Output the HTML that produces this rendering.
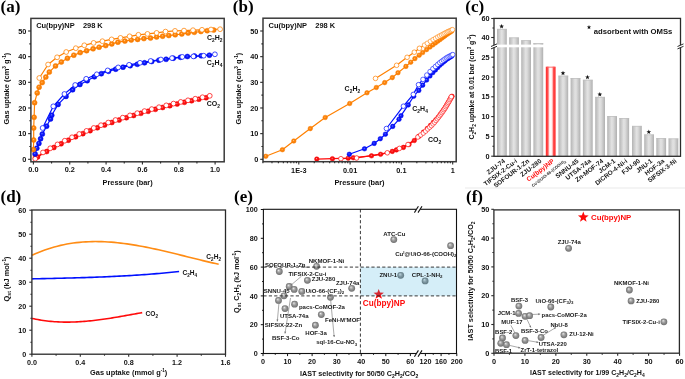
<!DOCTYPE html>
<html><head><meta charset="utf-8"><style>
html,body{margin:0;padding:0;background:#fff;width:685px;height:379px;overflow:hidden}
svg{display:block;will-change:transform}
</style></head><body>
<svg width="685" height="379" viewBox="0 0 685 379">
<rect width="685" height="379" fill="#fff"/>

<defs>
 <radialGradient id="gor" cx="0.5" cy="0.5" r="0.5" fx="0.42" fy="0.38"><stop offset="0" stop-color="#FFC080"/><stop offset="0.35" stop-color="#FF8A12"/><stop offset="1" stop-color="#F07500"/></radialGradient>
 <radialGradient id="gbl" cx="0.5" cy="0.5" r="0.5" fx="0.42" fy="0.38"><stop offset="0" stop-color="#7080FF"/><stop offset="0.35" stop-color="#1525FF"/><stop offset="1" stop-color="#0000E0"/></radialGradient>
 <radialGradient id="grd" cx="0.5" cy="0.5" r="0.5" fx="0.42" fy="0.38"><stop offset="0" stop-color="#FF9A9A"/><stop offset="0.35" stop-color="#FF1A1A"/><stop offset="1" stop-color="#E60000"/></radialGradient>
 <radialGradient id="gsp" cx="0.5" cy="0.5" r="0.5" fx="0.38" fy="0.32"><stop offset="0" stop-color="#F4F4F4"/><stop offset="0.18" stop-color="#C8C8C8"/><stop offset="0.55" stop-color="#959595"/><stop offset="0.85" stop-color="#7C7C7C"/><stop offset="1" stop-color="#6E6E6E"/></radialGradient>
 <linearGradient id="gbar" x1="0" x2="1" y1="0" y2="0"><stop offset="0" stop-color="#B4B4B4"/><stop offset="0.45" stop-color="#E2E2E2"/><stop offset="0.6" stop-color="#DCDCDC"/><stop offset="1" stop-color="#B0B0B0"/></linearGradient>
 <linearGradient id="gbarr" x1="0" x2="1" y1="0" y2="0"><stop offset="0" stop-color="#FF2A2A"/><stop offset="0.22" stop-color="#FF5050"/><stop offset="0.36" stop-color="#FFE8E8"/><stop offset="0.5" stop-color="#FFFFFF"/><stop offset="0.64" stop-color="#FFE8E8"/><stop offset="0.78" stop-color="#FF5050"/><stop offset="1" stop-color="#FF2A2A"/></linearGradient>
</defs>

<text x="0.5" y="11.6" font-family="Liberation Serif" font-weight="bold" font-size="17" text-anchor="start" fill="#000" >(a)</text>
<polyline points="33.4,159.3 37.5,156.96 46.6,151.55 53.85,147.53 61.1,143.75 68.35,140.19 75.6,136.82 82.85,133.65 90.1,130.64 97.35,127.78 104.6,125.07 111.85,122.49 119.1,120.04 126.35,117.7 133.6,115.47 140.85,113.34 148.1,111.3 155.35,109.35 162.6,107.48 169.85,105.69 177.1,103.97 184.35,102.32 191.6,100.73 198.85,99.2 206.1,97.73" fill="none" stroke="#FF0A0A" stroke-width="1.2" stroke-linejoin="round"/>
<polyline points="35.22,158.79 43,152.44 50.25,148.29 57.5,144.4 64.75,140.73 72,137.27 79.25,134 86.5,130.91 93.75,127.98 101,125.2 108.25,122.56 115.5,120.04 122.75,117.65 130,115.37 137.25,113.19 144.5,111.1 151.75,109.11 159,107.2 166.25,105.37 173.5,103.61 180.75,101.93 188,100.31 195.25,98.75 202.5,97.25 209.75,95.81" fill="none" stroke="#FF0A0A" stroke-width="1.2" stroke-linejoin="round"/>
<polyline points="33.4,159.3 35.1,153.9 36.8,148.2 38.9,143.4 40.6,138.8 42.3,134.1 46.6,126.2 50.5,119 51.7,115.3 58.1,104.4 66,96.4 72.6,89.8 79.9,84.5 87.2,80.7 94.4,76.8 101.3,73.7 108.5,71.3 115.7,69.2 123,67.2 130.2,65.7 137.3,64.3 144.5,62.8 151.7,61.5 158.9,60.2 166.1,59.3 173.3,58.2 180.5,57.3 187.4,56.5 194.5,56.1 201.2,55.8 209.4,55.2" fill="none" stroke="#0010FF" stroke-width="1.2" stroke-linejoin="round"/>
<polyline points="42.6,128 53.3,106.3 64.4,94 75.2,85 86.2,78.8 96.8,74.3 107.7,70.4 118.2,67.4 129.1,64.8 140,62.8 150.6,61 160.9,59.5 172,58.1 182.3,56.9 193.4,56.4 203.7,55.7 214.9,54.3" fill="none" stroke="#0010FF" stroke-width="1.2" stroke-linejoin="round"/>
<polyline points="33.4,159.3 33.4,149.6 33.7,140 33.7,128 34.1,117.3 34.6,102.7 37.2,92.9 39.1,87.2 42.2,82.6 45.8,77.1 49.3,72.1 55.5,65.9 61.3,62 67.4,58.3 73.8,55.2 80.2,52.6 86.6,50.7 93.1,48.8 99.1,47.2 105.7,45.6 111.8,43.9 117.9,42.2 124.9,41.1 131.2,40 137.6,39.4 143.9,38.6 150.5,38.1 156.6,37 162.6,36.2 168.8,35.5 175.2,34.8 181.8,34 188.1,33.1 194.3,32.3 200.9,31.5 207.2,30.7 213.7,30.1" fill="none" stroke="#FF8000" stroke-width="1.2" stroke-linejoin="round"/>
<polyline points="39.3,78 48.1,64.5 57.1,57.3 66.2,52 75.8,48.2 84.3,45.3 93.6,42.9 102.4,41.2 111.6,39.4 120.5,37.9 129.6,36.3 138.4,34.8 147.5,33.9 156.6,32.9 165.5,31.6 175,30.9 184,30.6 193,30.2 202,29.8 211,29.5 220.1,29.2" fill="none" stroke="#FF8000" stroke-width="1.2" stroke-linejoin="round"/>
<circle cx="37.5" cy="156.96" r="2.5" fill="url(#grd)" stroke="#FF0A0A" stroke-width="0.5"/>
<circle cx="46.6" cy="151.55" r="2.5" fill="url(#grd)" stroke="#FF0A0A" stroke-width="0.5"/>
<circle cx="53.85" cy="147.53" r="2.5" fill="url(#grd)" stroke="#FF0A0A" stroke-width="0.5"/>
<circle cx="61.1" cy="143.75" r="2.5" fill="url(#grd)" stroke="#FF0A0A" stroke-width="0.5"/>
<circle cx="68.35" cy="140.19" r="2.5" fill="url(#grd)" stroke="#FF0A0A" stroke-width="0.5"/>
<circle cx="75.6" cy="136.82" r="2.5" fill="url(#grd)" stroke="#FF0A0A" stroke-width="0.5"/>
<circle cx="82.85" cy="133.65" r="2.5" fill="url(#grd)" stroke="#FF0A0A" stroke-width="0.5"/>
<circle cx="90.1" cy="130.64" r="2.5" fill="url(#grd)" stroke="#FF0A0A" stroke-width="0.5"/>
<circle cx="97.35" cy="127.78" r="2.5" fill="url(#grd)" stroke="#FF0A0A" stroke-width="0.5"/>
<circle cx="104.6" cy="125.07" r="2.5" fill="url(#grd)" stroke="#FF0A0A" stroke-width="0.5"/>
<circle cx="111.85" cy="122.49" r="2.5" fill="url(#grd)" stroke="#FF0A0A" stroke-width="0.5"/>
<circle cx="119.1" cy="120.04" r="2.5" fill="url(#grd)" stroke="#FF0A0A" stroke-width="0.5"/>
<circle cx="126.35" cy="117.7" r="2.5" fill="url(#grd)" stroke="#FF0A0A" stroke-width="0.5"/>
<circle cx="133.6" cy="115.47" r="2.5" fill="url(#grd)" stroke="#FF0A0A" stroke-width="0.5"/>
<circle cx="140.85" cy="113.34" r="2.5" fill="url(#grd)" stroke="#FF0A0A" stroke-width="0.5"/>
<circle cx="148.1" cy="111.3" r="2.5" fill="url(#grd)" stroke="#FF0A0A" stroke-width="0.5"/>
<circle cx="155.35" cy="109.35" r="2.5" fill="url(#grd)" stroke="#FF0A0A" stroke-width="0.5"/>
<circle cx="162.6" cy="107.48" r="2.5" fill="url(#grd)" stroke="#FF0A0A" stroke-width="0.5"/>
<circle cx="169.85" cy="105.69" r="2.5" fill="url(#grd)" stroke="#FF0A0A" stroke-width="0.5"/>
<circle cx="177.1" cy="103.97" r="2.5" fill="url(#grd)" stroke="#FF0A0A" stroke-width="0.5"/>
<circle cx="184.35" cy="102.32" r="2.5" fill="url(#grd)" stroke="#FF0A0A" stroke-width="0.5"/>
<circle cx="191.6" cy="100.73" r="2.5" fill="url(#grd)" stroke="#FF0A0A" stroke-width="0.5"/>
<circle cx="198.85" cy="99.2" r="2.5" fill="url(#grd)" stroke="#FF0A0A" stroke-width="0.5"/>
<circle cx="206.1" cy="97.73" r="2.5" fill="url(#grd)" stroke="#FF0A0A" stroke-width="0.5"/>
<circle cx="35.22" cy="158.79" r="2.4" fill="#fff" stroke="#FF0A0A" stroke-width="0.75"/>
<circle cx="43" cy="152.44" r="2.4" fill="#fff" stroke="#FF0A0A" stroke-width="0.75"/>
<circle cx="50.25" cy="148.29" r="2.4" fill="#fff" stroke="#FF0A0A" stroke-width="0.75"/>
<circle cx="57.5" cy="144.4" r="2.4" fill="#fff" stroke="#FF0A0A" stroke-width="0.75"/>
<circle cx="64.75" cy="140.73" r="2.4" fill="#fff" stroke="#FF0A0A" stroke-width="0.75"/>
<circle cx="72" cy="137.27" r="2.4" fill="#fff" stroke="#FF0A0A" stroke-width="0.75"/>
<circle cx="79.25" cy="134" r="2.4" fill="#fff" stroke="#FF0A0A" stroke-width="0.75"/>
<circle cx="86.5" cy="130.91" r="2.4" fill="#fff" stroke="#FF0A0A" stroke-width="0.75"/>
<circle cx="93.75" cy="127.98" r="2.4" fill="#fff" stroke="#FF0A0A" stroke-width="0.75"/>
<circle cx="101" cy="125.2" r="2.4" fill="#fff" stroke="#FF0A0A" stroke-width="0.75"/>
<circle cx="108.25" cy="122.56" r="2.4" fill="#fff" stroke="#FF0A0A" stroke-width="0.75"/>
<circle cx="115.5" cy="120.04" r="2.4" fill="#fff" stroke="#FF0A0A" stroke-width="0.75"/>
<circle cx="122.75" cy="117.65" r="2.4" fill="#fff" stroke="#FF0A0A" stroke-width="0.75"/>
<circle cx="130" cy="115.37" r="2.4" fill="#fff" stroke="#FF0A0A" stroke-width="0.75"/>
<circle cx="137.25" cy="113.19" r="2.4" fill="#fff" stroke="#FF0A0A" stroke-width="0.75"/>
<circle cx="144.5" cy="111.1" r="2.4" fill="#fff" stroke="#FF0A0A" stroke-width="0.75"/>
<circle cx="151.75" cy="109.11" r="2.4" fill="#fff" stroke="#FF0A0A" stroke-width="0.75"/>
<circle cx="159" cy="107.2" r="2.4" fill="#fff" stroke="#FF0A0A" stroke-width="0.75"/>
<circle cx="166.25" cy="105.37" r="2.4" fill="#fff" stroke="#FF0A0A" stroke-width="0.75"/>
<circle cx="173.5" cy="103.61" r="2.4" fill="#fff" stroke="#FF0A0A" stroke-width="0.75"/>
<circle cx="180.75" cy="101.93" r="2.4" fill="#fff" stroke="#FF0A0A" stroke-width="0.75"/>
<circle cx="188" cy="100.31" r="2.4" fill="#fff" stroke="#FF0A0A" stroke-width="0.75"/>
<circle cx="195.25" cy="98.75" r="2.4" fill="#fff" stroke="#FF0A0A" stroke-width="0.75"/>
<circle cx="202.5" cy="97.25" r="2.4" fill="#fff" stroke="#FF0A0A" stroke-width="0.75"/>
<circle cx="209.75" cy="95.81" r="2.4" fill="#fff" stroke="#FF0A0A" stroke-width="0.75"/>
<circle cx="35.1" cy="153.9" r="2.5" fill="url(#gbl)" stroke="#0010FF" stroke-width="0.5"/>
<circle cx="36.8" cy="148.2" r="2.5" fill="url(#gbl)" stroke="#0010FF" stroke-width="0.5"/>
<circle cx="38.9" cy="143.4" r="2.5" fill="url(#gbl)" stroke="#0010FF" stroke-width="0.5"/>
<circle cx="40.6" cy="138.8" r="2.5" fill="url(#gbl)" stroke="#0010FF" stroke-width="0.5"/>
<circle cx="42.3" cy="134.1" r="2.5" fill="url(#gbl)" stroke="#0010FF" stroke-width="0.5"/>
<circle cx="46.6" cy="126.2" r="2.5" fill="url(#gbl)" stroke="#0010FF" stroke-width="0.5"/>
<circle cx="50.5" cy="119" r="2.5" fill="url(#gbl)" stroke="#0010FF" stroke-width="0.5"/>
<circle cx="51.7" cy="115.3" r="2.5" fill="url(#gbl)" stroke="#0010FF" stroke-width="0.5"/>
<circle cx="58.1" cy="104.4" r="2.5" fill="url(#gbl)" stroke="#0010FF" stroke-width="0.5"/>
<circle cx="66" cy="96.4" r="2.5" fill="url(#gbl)" stroke="#0010FF" stroke-width="0.5"/>
<circle cx="72.6" cy="89.8" r="2.5" fill="url(#gbl)" stroke="#0010FF" stroke-width="0.5"/>
<circle cx="79.9" cy="84.5" r="2.5" fill="url(#gbl)" stroke="#0010FF" stroke-width="0.5"/>
<circle cx="87.2" cy="80.7" r="2.5" fill="url(#gbl)" stroke="#0010FF" stroke-width="0.5"/>
<circle cx="94.4" cy="76.8" r="2.5" fill="url(#gbl)" stroke="#0010FF" stroke-width="0.5"/>
<circle cx="101.3" cy="73.7" r="2.5" fill="url(#gbl)" stroke="#0010FF" stroke-width="0.5"/>
<circle cx="108.5" cy="71.3" r="2.5" fill="url(#gbl)" stroke="#0010FF" stroke-width="0.5"/>
<circle cx="115.7" cy="69.2" r="2.5" fill="url(#gbl)" stroke="#0010FF" stroke-width="0.5"/>
<circle cx="123" cy="67.2" r="2.5" fill="url(#gbl)" stroke="#0010FF" stroke-width="0.5"/>
<circle cx="130.2" cy="65.7" r="2.5" fill="url(#gbl)" stroke="#0010FF" stroke-width="0.5"/>
<circle cx="137.3" cy="64.3" r="2.5" fill="url(#gbl)" stroke="#0010FF" stroke-width="0.5"/>
<circle cx="144.5" cy="62.8" r="2.5" fill="url(#gbl)" stroke="#0010FF" stroke-width="0.5"/>
<circle cx="151.7" cy="61.5" r="2.5" fill="url(#gbl)" stroke="#0010FF" stroke-width="0.5"/>
<circle cx="158.9" cy="60.2" r="2.5" fill="url(#gbl)" stroke="#0010FF" stroke-width="0.5"/>
<circle cx="166.1" cy="59.3" r="2.5" fill="url(#gbl)" stroke="#0010FF" stroke-width="0.5"/>
<circle cx="173.3" cy="58.2" r="2.5" fill="url(#gbl)" stroke="#0010FF" stroke-width="0.5"/>
<circle cx="180.5" cy="57.3" r="2.5" fill="url(#gbl)" stroke="#0010FF" stroke-width="0.5"/>
<circle cx="187.4" cy="56.5" r="2.5" fill="url(#gbl)" stroke="#0010FF" stroke-width="0.5"/>
<circle cx="194.5" cy="56.1" r="2.5" fill="url(#gbl)" stroke="#0010FF" stroke-width="0.5"/>
<circle cx="201.2" cy="55.8" r="2.5" fill="url(#gbl)" stroke="#0010FF" stroke-width="0.5"/>
<circle cx="209.4" cy="55.2" r="2.5" fill="url(#gbl)" stroke="#0010FF" stroke-width="0.5"/>
<circle cx="42.6" cy="128" r="2.4" fill="#fff" stroke="#0010FF" stroke-width="0.75"/>
<circle cx="53.3" cy="106.3" r="2.4" fill="#fff" stroke="#0010FF" stroke-width="0.75"/>
<circle cx="64.4" cy="94" r="2.4" fill="#fff" stroke="#0010FF" stroke-width="0.75"/>
<circle cx="75.2" cy="85" r="2.4" fill="#fff" stroke="#0010FF" stroke-width="0.75"/>
<circle cx="86.2" cy="78.8" r="2.4" fill="#fff" stroke="#0010FF" stroke-width="0.75"/>
<circle cx="96.8" cy="74.3" r="2.4" fill="#fff" stroke="#0010FF" stroke-width="0.75"/>
<circle cx="107.7" cy="70.4" r="2.4" fill="#fff" stroke="#0010FF" stroke-width="0.75"/>
<circle cx="118.2" cy="67.4" r="2.4" fill="#fff" stroke="#0010FF" stroke-width="0.75"/>
<circle cx="129.1" cy="64.8" r="2.4" fill="#fff" stroke="#0010FF" stroke-width="0.75"/>
<circle cx="140" cy="62.8" r="2.4" fill="#fff" stroke="#0010FF" stroke-width="0.75"/>
<circle cx="150.6" cy="61" r="2.4" fill="#fff" stroke="#0010FF" stroke-width="0.75"/>
<circle cx="160.9" cy="59.5" r="2.4" fill="#fff" stroke="#0010FF" stroke-width="0.75"/>
<circle cx="172" cy="58.1" r="2.4" fill="#fff" stroke="#0010FF" stroke-width="0.75"/>
<circle cx="182.3" cy="56.9" r="2.4" fill="#fff" stroke="#0010FF" stroke-width="0.75"/>
<circle cx="193.4" cy="56.4" r="2.4" fill="#fff" stroke="#0010FF" stroke-width="0.75"/>
<circle cx="203.7" cy="55.7" r="2.4" fill="#fff" stroke="#0010FF" stroke-width="0.75"/>
<circle cx="214.9" cy="54.3" r="2.4" fill="#fff" stroke="#0010FF" stroke-width="0.75"/>
<circle cx="33.4" cy="149.6" r="2.5" fill="url(#gor)" stroke="#FF8000" stroke-width="0.5"/>
<circle cx="33.7" cy="140" r="2.5" fill="url(#gor)" stroke="#FF8000" stroke-width="0.5"/>
<circle cx="33.7" cy="128" r="2.5" fill="url(#gor)" stroke="#FF8000" stroke-width="0.5"/>
<circle cx="34.1" cy="117.3" r="2.5" fill="url(#gor)" stroke="#FF8000" stroke-width="0.5"/>
<circle cx="34.6" cy="102.7" r="2.5" fill="url(#gor)" stroke="#FF8000" stroke-width="0.5"/>
<circle cx="37.2" cy="92.9" r="2.5" fill="url(#gor)" stroke="#FF8000" stroke-width="0.5"/>
<circle cx="39.1" cy="87.2" r="2.5" fill="url(#gor)" stroke="#FF8000" stroke-width="0.5"/>
<circle cx="42.2" cy="82.6" r="2.5" fill="url(#gor)" stroke="#FF8000" stroke-width="0.5"/>
<circle cx="45.8" cy="77.1" r="2.5" fill="url(#gor)" stroke="#FF8000" stroke-width="0.5"/>
<circle cx="49.3" cy="72.1" r="2.5" fill="url(#gor)" stroke="#FF8000" stroke-width="0.5"/>
<circle cx="55.5" cy="65.9" r="2.5" fill="url(#gor)" stroke="#FF8000" stroke-width="0.5"/>
<circle cx="61.3" cy="62" r="2.5" fill="url(#gor)" stroke="#FF8000" stroke-width="0.5"/>
<circle cx="67.4" cy="58.3" r="2.5" fill="url(#gor)" stroke="#FF8000" stroke-width="0.5"/>
<circle cx="73.8" cy="55.2" r="2.5" fill="url(#gor)" stroke="#FF8000" stroke-width="0.5"/>
<circle cx="80.2" cy="52.6" r="2.5" fill="url(#gor)" stroke="#FF8000" stroke-width="0.5"/>
<circle cx="86.6" cy="50.7" r="2.5" fill="url(#gor)" stroke="#FF8000" stroke-width="0.5"/>
<circle cx="93.1" cy="48.8" r="2.5" fill="url(#gor)" stroke="#FF8000" stroke-width="0.5"/>
<circle cx="99.1" cy="47.2" r="2.5" fill="url(#gor)" stroke="#FF8000" stroke-width="0.5"/>
<circle cx="105.7" cy="45.6" r="2.5" fill="url(#gor)" stroke="#FF8000" stroke-width="0.5"/>
<circle cx="111.8" cy="43.9" r="2.5" fill="url(#gor)" stroke="#FF8000" stroke-width="0.5"/>
<circle cx="117.9" cy="42.2" r="2.5" fill="url(#gor)" stroke="#FF8000" stroke-width="0.5"/>
<circle cx="124.9" cy="41.1" r="2.5" fill="url(#gor)" stroke="#FF8000" stroke-width="0.5"/>
<circle cx="131.2" cy="40" r="2.5" fill="url(#gor)" stroke="#FF8000" stroke-width="0.5"/>
<circle cx="137.6" cy="39.4" r="2.5" fill="url(#gor)" stroke="#FF8000" stroke-width="0.5"/>
<circle cx="143.9" cy="38.6" r="2.5" fill="url(#gor)" stroke="#FF8000" stroke-width="0.5"/>
<circle cx="150.5" cy="38.1" r="2.5" fill="url(#gor)" stroke="#FF8000" stroke-width="0.5"/>
<circle cx="156.6" cy="37" r="2.5" fill="url(#gor)" stroke="#FF8000" stroke-width="0.5"/>
<circle cx="162.6" cy="36.2" r="2.5" fill="url(#gor)" stroke="#FF8000" stroke-width="0.5"/>
<circle cx="168.8" cy="35.5" r="2.5" fill="url(#gor)" stroke="#FF8000" stroke-width="0.5"/>
<circle cx="175.2" cy="34.8" r="2.5" fill="url(#gor)" stroke="#FF8000" stroke-width="0.5"/>
<circle cx="181.8" cy="34" r="2.5" fill="url(#gor)" stroke="#FF8000" stroke-width="0.5"/>
<circle cx="188.1" cy="33.1" r="2.5" fill="url(#gor)" stroke="#FF8000" stroke-width="0.5"/>
<circle cx="194.3" cy="32.3" r="2.5" fill="url(#gor)" stroke="#FF8000" stroke-width="0.5"/>
<circle cx="200.9" cy="31.5" r="2.5" fill="url(#gor)" stroke="#FF8000" stroke-width="0.5"/>
<circle cx="207.2" cy="30.7" r="2.5" fill="url(#gor)" stroke="#FF8000" stroke-width="0.5"/>
<circle cx="213.7" cy="30.1" r="2.5" fill="url(#gor)" stroke="#FF8000" stroke-width="0.5"/>
<circle cx="39.3" cy="78" r="2.4" fill="#fff" stroke="#FF8000" stroke-width="0.75"/>
<circle cx="48.1" cy="64.5" r="2.4" fill="#fff" stroke="#FF8000" stroke-width="0.75"/>
<circle cx="57.1" cy="57.3" r="2.4" fill="#fff" stroke="#FF8000" stroke-width="0.75"/>
<circle cx="66.2" cy="52" r="2.4" fill="#fff" stroke="#FF8000" stroke-width="0.75"/>
<circle cx="75.8" cy="48.2" r="2.4" fill="#fff" stroke="#FF8000" stroke-width="0.75"/>
<circle cx="84.3" cy="45.3" r="2.4" fill="#fff" stroke="#FF8000" stroke-width="0.75"/>
<circle cx="93.6" cy="42.9" r="2.4" fill="#fff" stroke="#FF8000" stroke-width="0.75"/>
<circle cx="102.4" cy="41.2" r="2.4" fill="#fff" stroke="#FF8000" stroke-width="0.75"/>
<circle cx="111.6" cy="39.4" r="2.4" fill="#fff" stroke="#FF8000" stroke-width="0.75"/>
<circle cx="120.5" cy="37.9" r="2.4" fill="#fff" stroke="#FF8000" stroke-width="0.75"/>
<circle cx="129.6" cy="36.3" r="2.4" fill="#fff" stroke="#FF8000" stroke-width="0.75"/>
<circle cx="138.4" cy="34.8" r="2.4" fill="#fff" stroke="#FF8000" stroke-width="0.75"/>
<circle cx="147.5" cy="33.9" r="2.4" fill="#fff" stroke="#FF8000" stroke-width="0.75"/>
<circle cx="156.6" cy="32.9" r="2.4" fill="#fff" stroke="#FF8000" stroke-width="0.75"/>
<circle cx="165.5" cy="31.6" r="2.4" fill="#fff" stroke="#FF8000" stroke-width="0.75"/>
<circle cx="175" cy="30.9" r="2.4" fill="#fff" stroke="#FF8000" stroke-width="0.75"/>
<circle cx="184" cy="30.6" r="2.4" fill="#fff" stroke="#FF8000" stroke-width="0.75"/>
<circle cx="193" cy="30.2" r="2.4" fill="#fff" stroke="#FF8000" stroke-width="0.75"/>
<circle cx="202" cy="29.8" r="2.4" fill="#fff" stroke="#FF8000" stroke-width="0.75"/>
<circle cx="211" cy="29.5" r="2.4" fill="#fff" stroke="#FF8000" stroke-width="0.75"/>
<circle cx="220.1" cy="29.2" r="2.4" fill="#fff" stroke="#FF8000" stroke-width="0.75"/>
<rect x="30.9" y="18.4" width="193.3" height="143.4" fill="none" stroke="#3a3a3a" stroke-width="1.5"/>
<line x1="33.4" y1="161.8" x2="33.4" y2="164.6" stroke="#2a2a2a" stroke-width="1.1" />
<line x1="69.74" y1="161.8" x2="69.74" y2="164.6" stroke="#2a2a2a" stroke-width="1.1" />
<line x1="106.08" y1="161.8" x2="106.08" y2="164.6" stroke="#2a2a2a" stroke-width="1.1" />
<line x1="142.42" y1="161.8" x2="142.42" y2="164.6" stroke="#2a2a2a" stroke-width="1.1" />
<line x1="178.76" y1="161.8" x2="178.76" y2="164.6" stroke="#2a2a2a" stroke-width="1.1" />
<line x1="215.1" y1="161.8" x2="215.1" y2="164.6" stroke="#2a2a2a" stroke-width="1.1" />
<line x1="51.57" y1="161.8" x2="51.57" y2="163.4" stroke="#2a2a2a" stroke-width="1.1" />
<line x1="87.91" y1="161.8" x2="87.91" y2="163.4" stroke="#2a2a2a" stroke-width="1.1" />
<line x1="124.25" y1="161.8" x2="124.25" y2="163.4" stroke="#2a2a2a" stroke-width="1.1" />
<line x1="160.59" y1="161.8" x2="160.59" y2="163.4" stroke="#2a2a2a" stroke-width="1.1" />
<line x1="196.93" y1="161.8" x2="196.93" y2="163.4" stroke="#2a2a2a" stroke-width="1.1" />
<text x="33.4" y="172.4" font-family="Liberation Sans" font-weight="bold" font-size="7.3" text-anchor="middle" fill="#111" >0.0</text>
<text x="69.74" y="172.4" font-family="Liberation Sans" font-weight="bold" font-size="7.3" text-anchor="middle" fill="#111" >0.2</text>
<text x="106.08" y="172.4" font-family="Liberation Sans" font-weight="bold" font-size="7.3" text-anchor="middle" fill="#111" >0.4</text>
<text x="142.42" y="172.4" font-family="Liberation Sans" font-weight="bold" font-size="7.3" text-anchor="middle" fill="#111" >0.6</text>
<text x="178.76" y="172.4" font-family="Liberation Sans" font-weight="bold" font-size="7.3" text-anchor="middle" fill="#111" >0.8</text>
<text x="215.1" y="172.4" font-family="Liberation Sans" font-weight="bold" font-size="7.3" text-anchor="middle" fill="#111" >1.0</text>
<line x1="30.9" y1="159.3" x2="28.1" y2="159.3" stroke="#2a2a2a" stroke-width="1.1" />
<line x1="30.9" y1="133.64" x2="28.1" y2="133.64" stroke="#2a2a2a" stroke-width="1.1" />
<line x1="30.9" y1="107.98" x2="28.1" y2="107.98" stroke="#2a2a2a" stroke-width="1.1" />
<line x1="30.9" y1="82.32" x2="28.1" y2="82.32" stroke="#2a2a2a" stroke-width="1.1" />
<line x1="30.9" y1="56.66" x2="28.1" y2="56.66" stroke="#2a2a2a" stroke-width="1.1" />
<line x1="30.9" y1="31" x2="28.1" y2="31" stroke="#2a2a2a" stroke-width="1.1" />
<line x1="30.9" y1="146.47" x2="29.3" y2="146.47" stroke="#2a2a2a" stroke-width="1.1" />
<line x1="30.9" y1="120.81" x2="29.3" y2="120.81" stroke="#2a2a2a" stroke-width="1.1" />
<line x1="30.9" y1="95.15" x2="29.3" y2="95.15" stroke="#2a2a2a" stroke-width="1.1" />
<line x1="30.9" y1="69.49" x2="29.3" y2="69.49" stroke="#2a2a2a" stroke-width="1.1" />
<line x1="30.9" y1="43.83" x2="29.3" y2="43.83" stroke="#2a2a2a" stroke-width="1.1" />
<text x="26.4" y="161.9" font-family="Liberation Sans" font-weight="bold" font-size="7.3" text-anchor="end" fill="#111" >0</text>
<text x="26.4" y="136.24" font-family="Liberation Sans" font-weight="bold" font-size="7.3" text-anchor="end" fill="#111" >10</text>
<text x="26.4" y="110.58" font-family="Liberation Sans" font-weight="bold" font-size="7.3" text-anchor="end" fill="#111" >20</text>
<text x="26.4" y="84.92" font-family="Liberation Sans" font-weight="bold" font-size="7.3" text-anchor="end" fill="#111" >30</text>
<text x="26.4" y="59.26" font-family="Liberation Sans" font-weight="bold" font-size="7.3" text-anchor="end" fill="#111" >40</text>
<text x="26.4" y="33.6" font-family="Liberation Sans" font-weight="bold" font-size="7.3" text-anchor="end" fill="#111" >50</text>
<text x="127.6" y="184.8" font-family="Liberation Sans" font-weight="bold" font-size="7.4" text-anchor="middle" fill="#111" >Pressure (bar)</text>
<text transform="translate(9.1,88.6) rotate(-90)" font-family="Liberation Sans" font-weight="bold" font-size="7.5" text-anchor="middle" fill="#111">Gas uptake (cm<tspan font-size="4.65" baseline-shift="3">3</tspan> g<tspan font-size="4.65" baseline-shift="3">-1</tspan>)</text>
<text x="36.2" y="27.8" font-family="Liberation Sans" font-weight="bold" font-size="7.45" text-anchor="start" fill="#111" >Cu(bpy)NP&#160;&#160;&#160;&#160;298 K</text>
<text x="207" y="39.7" font-family="Liberation Sans" font-weight="bold" font-size="7" text-anchor="start" fill="#111" >C<tspan font-size="4.9" baseline-shift="-2.1">2</tspan>H<tspan font-size="4.9" baseline-shift="-2.1">2</tspan></text>
<text x="206.8" y="65.2" font-family="Liberation Sans" font-weight="bold" font-size="7" text-anchor="start" fill="#111" >C<tspan font-size="4.9" baseline-shift="-2.1">2</tspan>H<tspan font-size="4.9" baseline-shift="-2.1">4</tspan></text>
<text x="206.8" y="106.2" font-family="Liberation Sans" font-weight="bold" font-size="7" text-anchor="start" fill="#111" >CO<tspan font-size="4.9" baseline-shift="-2.1">2</tspan></text>
<text x="232.8" y="11.6" font-family="Liberation Serif" font-weight="bold" font-size="17" text-anchor="start" fill="#000" >(b)</text>
<polyline points="316.8,159.1 332.4,158.7 348.2,158.2 353.3,157.7 371.5,155.8 380.6,154.3 392.3,151.4 396.4,149.9 403.4,147.4 409,144.5 414.3,140.5 418.97,136.26 423.53,132.07 427.31,128.52 430.55,125.42 433.37,122.42 435.88,119.75 438.13,117.32 440.18,114.55 442.05,112 443.78,109.66 445.38,107.36 446.88,104.87 448.28,102.54 449.6,100.34 450.84,98.26 452.02,96.3" fill="none" stroke="#FF0A0A" stroke-width="1.2" stroke-linejoin="round"/>
<polyline points="340.9,158.7 356.6,158 387.3,152.8 399.4,148.4 408,144.5 417.85,137.03 420.76,134.92 423.34,133.06 425.64,131.13 427.73,128.98 429.65,127.24 431.41,125.68 433.04,123.92 434.56,122.26 435.98,120.49 437.32,118.81 438.58,117.16 439.77,115.6 440.9,114.08 441.98,112.63 443.01,111.18 443.99,109.71 444.94,108.3 445.84,106.74 446.71,105.24 447.54,103.81 448.35,102.44 449.13,101.05 449.88,99.55 450.6,98.09 451.31,96.69" fill="none" stroke="#FF0A0A" stroke-width="1.2" stroke-linejoin="round"/>
<polyline points="349.3,154.3 364.5,148.8 374.2,143.4 380.3,138.7 385.4,134.2 392.7,126.4 399,119.3 401,115.7 408.3,104.9 413.7,96.3 418.8,90.4 422.69,85.13 426.61,80.05 429.94,76 432.84,72.61 435.4,69.89 437.7,67.45 439.78,65.23 441.69,63.55 443.44,62.05 445.07,60.65 446.59,59.36 448.01,58.38 449.34,57.56 450.6,56.79 451.79,56.05" fill="none" stroke="#0010FF" stroke-width="1.2" stroke-linejoin="round"/>
<polyline points="386.4,128.5 403.4,106.2 413.3,94.4 418.5,84.7 422.98,79.39 426.8,75.07 430.07,71.57 432.91,68.7 435.44,66.49 437.7,64.51 439.76,62.71 441.64,61.33 443.38,60.09 444.99,58.94 446.49,57.86 447.9,57.05 449.22,56.39 450.47,55.77 451.65,55.17 452.78,54.61" fill="none" stroke="#0010FF" stroke-width="1.2" stroke-linejoin="round"/>
<polyline points="265.8,156.3 282.4,149.7 293.8,141 310.3,128.6 325.2,117.5 349.7,103.5 367,92.8 376.3,87.5 384.7,82.6 392.3,77.6 398,72.7 405.9,66.4 410.7,62.2 414.9,58.6 419.2,55.2 422.69,52.55 426.61,49.58 429.94,47.05 432.84,44.87 435.4,42.95 437.7,41.23 439.78,39.66 441.69,38.22 443.44,36.89 445.07,35.66 446.59,34.51 448.01,33.53 449.34,32.63 450.6,31.78 451.79,30.98" fill="none" stroke="#FF8000" stroke-width="1.2" stroke-linejoin="round"/>
<polyline points="375.5,78.4 396.6,65.3 407.1,57.3 414.3,52.2 419.4,48.3 424.5,45.1 427.33,43.29 430.43,41.3 433.15,39.65 435.58,38.29 437.76,37.06 439.76,35.94 441.58,34.96 443.27,34.07 444.84,33.24 446.31,32.47 447.68,31.8 448.98,31.22 450.2,30.68 451.36,30.17 452.47,29.68" fill="none" stroke="#FF8000" stroke-width="1.2" stroke-linejoin="round"/>
<circle cx="316.8" cy="159.1" r="2.3" fill="url(#grd)" stroke="#FF0A0A" stroke-width="0.5"/>
<circle cx="332.4" cy="158.7" r="2.3" fill="url(#grd)" stroke="#FF0A0A" stroke-width="0.5"/>
<circle cx="348.2" cy="158.2" r="2.3" fill="url(#grd)" stroke="#FF0A0A" stroke-width="0.5"/>
<circle cx="353.3" cy="157.7" r="2.3" fill="url(#grd)" stroke="#FF0A0A" stroke-width="0.5"/>
<circle cx="371.5" cy="155.8" r="2.3" fill="url(#grd)" stroke="#FF0A0A" stroke-width="0.5"/>
<circle cx="380.6" cy="154.3" r="2.3" fill="url(#grd)" stroke="#FF0A0A" stroke-width="0.5"/>
<circle cx="392.3" cy="151.4" r="2.3" fill="url(#grd)" stroke="#FF0A0A" stroke-width="0.5"/>
<circle cx="396.4" cy="149.9" r="2.3" fill="url(#grd)" stroke="#FF0A0A" stroke-width="0.5"/>
<circle cx="403.4" cy="147.4" r="2.3" fill="url(#grd)" stroke="#FF0A0A" stroke-width="0.5"/>
<circle cx="409" cy="144.5" r="2.3" fill="url(#grd)" stroke="#FF0A0A" stroke-width="0.5"/>
<circle cx="414.3" cy="140.5" r="2.3" fill="url(#grd)" stroke="#FF0A0A" stroke-width="0.5"/>
<circle cx="418.97" cy="136.26" r="2.3" fill="url(#grd)" stroke="#FF0A0A" stroke-width="0.5"/>
<circle cx="423.53" cy="132.07" r="2.3" fill="url(#grd)" stroke="#FF0A0A" stroke-width="0.5"/>
<circle cx="427.31" cy="128.52" r="2.3" fill="url(#grd)" stroke="#FF0A0A" stroke-width="0.5"/>
<circle cx="430.55" cy="125.42" r="2.3" fill="url(#grd)" stroke="#FF0A0A" stroke-width="0.5"/>
<circle cx="433.37" cy="122.42" r="2.3" fill="url(#grd)" stroke="#FF0A0A" stroke-width="0.5"/>
<circle cx="435.88" cy="119.75" r="2.3" fill="url(#grd)" stroke="#FF0A0A" stroke-width="0.5"/>
<circle cx="438.13" cy="117.32" r="2.3" fill="url(#grd)" stroke="#FF0A0A" stroke-width="0.5"/>
<circle cx="440.18" cy="114.55" r="2.3" fill="url(#grd)" stroke="#FF0A0A" stroke-width="0.5"/>
<circle cx="442.05" cy="112" r="2.3" fill="url(#grd)" stroke="#FF0A0A" stroke-width="0.5"/>
<circle cx="443.78" cy="109.66" r="2.3" fill="url(#grd)" stroke="#FF0A0A" stroke-width="0.5"/>
<circle cx="445.38" cy="107.36" r="2.3" fill="url(#grd)" stroke="#FF0A0A" stroke-width="0.5"/>
<circle cx="446.88" cy="104.87" r="2.3" fill="url(#grd)" stroke="#FF0A0A" stroke-width="0.5"/>
<circle cx="448.28" cy="102.54" r="2.3" fill="url(#grd)" stroke="#FF0A0A" stroke-width="0.5"/>
<circle cx="449.6" cy="100.34" r="2.3" fill="url(#grd)" stroke="#FF0A0A" stroke-width="0.5"/>
<circle cx="450.84" cy="98.26" r="2.3" fill="url(#grd)" stroke="#FF0A0A" stroke-width="0.5"/>
<circle cx="452.02" cy="96.3" r="2.3" fill="url(#grd)" stroke="#FF0A0A" stroke-width="0.5"/>
<circle cx="340.9" cy="158.7" r="2.3" fill="#fff" stroke="#FF0A0A" stroke-width="0.7"/>
<circle cx="356.6" cy="158" r="2.3" fill="#fff" stroke="#FF0A0A" stroke-width="0.7"/>
<circle cx="387.3" cy="152.8" r="2.3" fill="#fff" stroke="#FF0A0A" stroke-width="0.7"/>
<circle cx="399.4" cy="148.4" r="2.3" fill="#fff" stroke="#FF0A0A" stroke-width="0.7"/>
<circle cx="408" cy="144.5" r="2.3" fill="#fff" stroke="#FF0A0A" stroke-width="0.7"/>
<circle cx="417.85" cy="137.03" r="2.3" fill="#fff" stroke="#FF0A0A" stroke-width="0.7"/>
<circle cx="420.76" cy="134.92" r="2.3" fill="#fff" stroke="#FF0A0A" stroke-width="0.6"/>
<circle cx="423.34" cy="133.06" r="2.3" fill="#fff" stroke="#FF0A0A" stroke-width="0.6"/>
<circle cx="425.64" cy="131.13" r="2.3" fill="#fff" stroke="#FF0A0A" stroke-width="0.6"/>
<circle cx="427.73" cy="128.98" r="2.3" fill="#fff" stroke="#FF0A0A" stroke-width="0.6"/>
<circle cx="429.65" cy="127.24" r="2.3" fill="#fff" stroke="#FF0A0A" stroke-width="0.6"/>
<circle cx="431.41" cy="125.68" r="2.3" fill="#fff" stroke="#FF0A0A" stroke-width="0.6"/>
<circle cx="433.04" cy="123.92" r="2.3" fill="#fff" stroke="#FF0A0A" stroke-width="0.6"/>
<circle cx="434.56" cy="122.26" r="2.3" fill="#fff" stroke="#FF0A0A" stroke-width="0.6"/>
<circle cx="435.98" cy="120.49" r="2.3" fill="#fff" stroke="#FF0A0A" stroke-width="0.6"/>
<circle cx="437.32" cy="118.81" r="2.3" fill="#fff" stroke="#FF0A0A" stroke-width="0.6"/>
<circle cx="438.58" cy="117.16" r="2.3" fill="#fff" stroke="#FF0A0A" stroke-width="0.6"/>
<circle cx="439.77" cy="115.6" r="2.3" fill="#fff" stroke="#FF0A0A" stroke-width="0.6"/>
<circle cx="440.9" cy="114.08" r="2.3" fill="#fff" stroke="#FF0A0A" stroke-width="0.6"/>
<circle cx="441.98" cy="112.63" r="2.3" fill="#fff" stroke="#FF0A0A" stroke-width="0.6"/>
<circle cx="443.01" cy="111.18" r="2.3" fill="#fff" stroke="#FF0A0A" stroke-width="0.6"/>
<circle cx="443.99" cy="109.71" r="2.3" fill="#fff" stroke="#FF0A0A" stroke-width="0.6"/>
<circle cx="444.94" cy="108.3" r="2.3" fill="#fff" stroke="#FF0A0A" stroke-width="0.6"/>
<circle cx="445.84" cy="106.74" r="2.3" fill="#fff" stroke="#FF0A0A" stroke-width="0.6"/>
<circle cx="446.71" cy="105.24" r="2.3" fill="#fff" stroke="#FF0A0A" stroke-width="0.6"/>
<circle cx="447.54" cy="103.81" r="2.3" fill="#fff" stroke="#FF0A0A" stroke-width="0.6"/>
<circle cx="448.35" cy="102.44" r="2.3" fill="#fff" stroke="#FF0A0A" stroke-width="0.6"/>
<circle cx="449.13" cy="101.05" r="2.3" fill="#fff" stroke="#FF0A0A" stroke-width="0.6"/>
<circle cx="449.88" cy="99.55" r="2.3" fill="#fff" stroke="#FF0A0A" stroke-width="0.6"/>
<circle cx="450.6" cy="98.09" r="2.3" fill="#fff" stroke="#FF0A0A" stroke-width="0.6"/>
<circle cx="451.31" cy="96.69" r="2.3" fill="#fff" stroke="#FF0A0A" stroke-width="0.6"/>
<circle cx="349.3" cy="154.3" r="2.3" fill="url(#gbl)" stroke="#0010FF" stroke-width="0.5"/>
<circle cx="364.5" cy="148.8" r="2.3" fill="url(#gbl)" stroke="#0010FF" stroke-width="0.5"/>
<circle cx="374.2" cy="143.4" r="2.3" fill="url(#gbl)" stroke="#0010FF" stroke-width="0.5"/>
<circle cx="380.3" cy="138.7" r="2.3" fill="url(#gbl)" stroke="#0010FF" stroke-width="0.5"/>
<circle cx="385.4" cy="134.2" r="2.3" fill="url(#gbl)" stroke="#0010FF" stroke-width="0.5"/>
<circle cx="392.7" cy="126.4" r="2.3" fill="url(#gbl)" stroke="#0010FF" stroke-width="0.5"/>
<circle cx="399" cy="119.3" r="2.3" fill="url(#gbl)" stroke="#0010FF" stroke-width="0.5"/>
<circle cx="401" cy="115.7" r="2.3" fill="url(#gbl)" stroke="#0010FF" stroke-width="0.5"/>
<circle cx="408.3" cy="104.9" r="2.3" fill="url(#gbl)" stroke="#0010FF" stroke-width="0.5"/>
<circle cx="413.7" cy="96.3" r="2.3" fill="url(#gbl)" stroke="#0010FF" stroke-width="0.5"/>
<circle cx="418.8" cy="90.4" r="2.3" fill="url(#gbl)" stroke="#0010FF" stroke-width="0.5"/>
<circle cx="422.69" cy="85.13" r="2.3" fill="url(#gbl)" stroke="#0010FF" stroke-width="0.5"/>
<circle cx="426.61" cy="80.05" r="2.3" fill="url(#gbl)" stroke="#0010FF" stroke-width="0.5"/>
<circle cx="429.94" cy="76" r="2.3" fill="url(#gbl)" stroke="#0010FF" stroke-width="0.5"/>
<circle cx="432.84" cy="72.61" r="2.3" fill="url(#gbl)" stroke="#0010FF" stroke-width="0.5"/>
<circle cx="435.4" cy="69.89" r="2.3" fill="url(#gbl)" stroke="#0010FF" stroke-width="0.5"/>
<circle cx="437.7" cy="67.45" r="2.3" fill="url(#gbl)" stroke="#0010FF" stroke-width="0.5"/>
<circle cx="439.78" cy="65.23" r="2.3" fill="url(#gbl)" stroke="#0010FF" stroke-width="0.5"/>
<circle cx="441.69" cy="63.55" r="2.3" fill="url(#gbl)" stroke="#0010FF" stroke-width="0.5"/>
<circle cx="443.44" cy="62.05" r="2.3" fill="url(#gbl)" stroke="#0010FF" stroke-width="0.5"/>
<circle cx="445.07" cy="60.65" r="2.3" fill="url(#gbl)" stroke="#0010FF" stroke-width="0.5"/>
<circle cx="446.59" cy="59.36" r="2.3" fill="url(#gbl)" stroke="#0010FF" stroke-width="0.5"/>
<circle cx="448.01" cy="58.38" r="2.3" fill="url(#gbl)" stroke="#0010FF" stroke-width="0.5"/>
<circle cx="449.34" cy="57.56" r="2.3" fill="url(#gbl)" stroke="#0010FF" stroke-width="0.5"/>
<circle cx="450.6" cy="56.79" r="2.3" fill="url(#gbl)" stroke="#0010FF" stroke-width="0.5"/>
<circle cx="451.79" cy="56.05" r="2.3" fill="url(#gbl)" stroke="#0010FF" stroke-width="0.5"/>
<circle cx="386.4" cy="128.5" r="2.3" fill="#fff" stroke="#0010FF" stroke-width="0.7"/>
<circle cx="403.4" cy="106.2" r="2.3" fill="#fff" stroke="#0010FF" stroke-width="0.7"/>
<circle cx="413.3" cy="94.4" r="2.3" fill="#fff" stroke="#0010FF" stroke-width="0.7"/>
<circle cx="418.5" cy="84.7" r="2.3" fill="#fff" stroke="#0010FF" stroke-width="0.7"/>
<circle cx="422.98" cy="79.39" r="2.3" fill="#fff" stroke="#0010FF" stroke-width="0.6"/>
<circle cx="426.8" cy="75.07" r="2.3" fill="#fff" stroke="#0010FF" stroke-width="0.6"/>
<circle cx="430.07" cy="71.57" r="2.3" fill="#fff" stroke="#0010FF" stroke-width="0.6"/>
<circle cx="432.91" cy="68.7" r="2.3" fill="#fff" stroke="#0010FF" stroke-width="0.6"/>
<circle cx="435.44" cy="66.49" r="2.3" fill="#fff" stroke="#0010FF" stroke-width="0.6"/>
<circle cx="437.7" cy="64.51" r="2.3" fill="#fff" stroke="#0010FF" stroke-width="0.6"/>
<circle cx="439.76" cy="62.71" r="2.3" fill="#fff" stroke="#0010FF" stroke-width="0.6"/>
<circle cx="441.64" cy="61.33" r="2.3" fill="#fff" stroke="#0010FF" stroke-width="0.6"/>
<circle cx="443.38" cy="60.09" r="2.3" fill="#fff" stroke="#0010FF" stroke-width="0.6"/>
<circle cx="444.99" cy="58.94" r="2.3" fill="#fff" stroke="#0010FF" stroke-width="0.6"/>
<circle cx="446.49" cy="57.86" r="2.3" fill="#fff" stroke="#0010FF" stroke-width="0.6"/>
<circle cx="447.9" cy="57.05" r="2.3" fill="#fff" stroke="#0010FF" stroke-width="0.6"/>
<circle cx="449.22" cy="56.39" r="2.3" fill="#fff" stroke="#0010FF" stroke-width="0.6"/>
<circle cx="450.47" cy="55.77" r="2.3" fill="#fff" stroke="#0010FF" stroke-width="0.6"/>
<circle cx="451.65" cy="55.17" r="2.3" fill="#fff" stroke="#0010FF" stroke-width="0.6"/>
<circle cx="452.78" cy="54.61" r="2.3" fill="#fff" stroke="#0010FF" stroke-width="0.6"/>
<circle cx="265.8" cy="156.3" r="2.3" fill="url(#gor)" stroke="#FF8000" stroke-width="0.5"/>
<circle cx="282.4" cy="149.7" r="2.3" fill="url(#gor)" stroke="#FF8000" stroke-width="0.5"/>
<circle cx="293.8" cy="141" r="2.3" fill="url(#gor)" stroke="#FF8000" stroke-width="0.5"/>
<circle cx="310.3" cy="128.6" r="2.3" fill="url(#gor)" stroke="#FF8000" stroke-width="0.5"/>
<circle cx="325.2" cy="117.5" r="2.3" fill="url(#gor)" stroke="#FF8000" stroke-width="0.5"/>
<circle cx="349.7" cy="103.5" r="2.3" fill="url(#gor)" stroke="#FF8000" stroke-width="0.5"/>
<circle cx="367" cy="92.8" r="2.3" fill="url(#gor)" stroke="#FF8000" stroke-width="0.5"/>
<circle cx="376.3" cy="87.5" r="2.3" fill="url(#gor)" stroke="#FF8000" stroke-width="0.5"/>
<circle cx="384.7" cy="82.6" r="2.3" fill="url(#gor)" stroke="#FF8000" stroke-width="0.5"/>
<circle cx="392.3" cy="77.6" r="2.3" fill="url(#gor)" stroke="#FF8000" stroke-width="0.5"/>
<circle cx="398" cy="72.7" r="2.3" fill="url(#gor)" stroke="#FF8000" stroke-width="0.5"/>
<circle cx="405.9" cy="66.4" r="2.3" fill="url(#gor)" stroke="#FF8000" stroke-width="0.5"/>
<circle cx="410.7" cy="62.2" r="2.3" fill="url(#gor)" stroke="#FF8000" stroke-width="0.5"/>
<circle cx="414.9" cy="58.6" r="2.3" fill="url(#gor)" stroke="#FF8000" stroke-width="0.5"/>
<circle cx="419.2" cy="55.2" r="2.3" fill="url(#gor)" stroke="#FF8000" stroke-width="0.5"/>
<circle cx="422.69" cy="52.55" r="2.3" fill="url(#gor)" stroke="#FF8000" stroke-width="0.5"/>
<circle cx="426.61" cy="49.58" r="2.3" fill="url(#gor)" stroke="#FF8000" stroke-width="0.5"/>
<circle cx="429.94" cy="47.05" r="2.3" fill="url(#gor)" stroke="#FF8000" stroke-width="0.5"/>
<circle cx="432.84" cy="44.87" r="2.3" fill="url(#gor)" stroke="#FF8000" stroke-width="0.5"/>
<circle cx="435.4" cy="42.95" r="2.3" fill="url(#gor)" stroke="#FF8000" stroke-width="0.5"/>
<circle cx="437.7" cy="41.23" r="2.3" fill="url(#gor)" stroke="#FF8000" stroke-width="0.5"/>
<circle cx="439.78" cy="39.66" r="2.3" fill="url(#gor)" stroke="#FF8000" stroke-width="0.5"/>
<circle cx="441.69" cy="38.22" r="2.3" fill="url(#gor)" stroke="#FF8000" stroke-width="0.5"/>
<circle cx="443.44" cy="36.89" r="2.3" fill="url(#gor)" stroke="#FF8000" stroke-width="0.5"/>
<circle cx="445.07" cy="35.66" r="2.3" fill="url(#gor)" stroke="#FF8000" stroke-width="0.5"/>
<circle cx="446.59" cy="34.51" r="2.3" fill="url(#gor)" stroke="#FF8000" stroke-width="0.5"/>
<circle cx="448.01" cy="33.53" r="2.3" fill="url(#gor)" stroke="#FF8000" stroke-width="0.5"/>
<circle cx="449.34" cy="32.63" r="2.3" fill="url(#gor)" stroke="#FF8000" stroke-width="0.5"/>
<circle cx="450.6" cy="31.78" r="2.3" fill="url(#gor)" stroke="#FF8000" stroke-width="0.5"/>
<circle cx="451.79" cy="30.98" r="2.3" fill="url(#gor)" stroke="#FF8000" stroke-width="0.5"/>
<circle cx="375.5" cy="78.4" r="2.3" fill="#fff" stroke="#FF8000" stroke-width="0.7"/>
<circle cx="396.6" cy="65.3" r="2.3" fill="#fff" stroke="#FF8000" stroke-width="0.7"/>
<circle cx="407.1" cy="57.3" r="2.3" fill="#fff" stroke="#FF8000" stroke-width="0.7"/>
<circle cx="414.3" cy="52.2" r="2.3" fill="#fff" stroke="#FF8000" stroke-width="0.7"/>
<circle cx="419.4" cy="48.3" r="2.3" fill="#fff" stroke="#FF8000" stroke-width="0.7"/>
<circle cx="424.5" cy="45.1" r="2.3" fill="#fff" stroke="#FF8000" stroke-width="0.6"/>
<circle cx="427.33" cy="43.29" r="2.3" fill="#fff" stroke="#FF8000" stroke-width="0.6"/>
<circle cx="430.43" cy="41.3" r="2.3" fill="#fff" stroke="#FF8000" stroke-width="0.6"/>
<circle cx="433.15" cy="39.65" r="2.3" fill="#fff" stroke="#FF8000" stroke-width="0.6"/>
<circle cx="435.58" cy="38.29" r="2.3" fill="#fff" stroke="#FF8000" stroke-width="0.6"/>
<circle cx="437.76" cy="37.06" r="2.3" fill="#fff" stroke="#FF8000" stroke-width="0.6"/>
<circle cx="439.76" cy="35.94" r="2.3" fill="#fff" stroke="#FF8000" stroke-width="0.6"/>
<circle cx="441.58" cy="34.96" r="2.3" fill="#fff" stroke="#FF8000" stroke-width="0.6"/>
<circle cx="443.27" cy="34.07" r="2.3" fill="#fff" stroke="#FF8000" stroke-width="0.6"/>
<circle cx="444.84" cy="33.24" r="2.3" fill="#fff" stroke="#FF8000" stroke-width="0.6"/>
<circle cx="446.31" cy="32.47" r="2.3" fill="#fff" stroke="#FF8000" stroke-width="0.6"/>
<circle cx="447.68" cy="31.8" r="2.3" fill="#fff" stroke="#FF8000" stroke-width="0.6"/>
<circle cx="448.98" cy="31.22" r="2.3" fill="#fff" stroke="#FF8000" stroke-width="0.6"/>
<circle cx="450.2" cy="30.68" r="2.3" fill="#fff" stroke="#FF8000" stroke-width="0.6"/>
<circle cx="451.36" cy="30.17" r="2.3" fill="#fff" stroke="#FF8000" stroke-width="0.6"/>
<circle cx="452.47" cy="29.68" r="2.3" fill="#fff" stroke="#FF8000" stroke-width="0.6"/>
<rect x="263" y="18.2" width="193.2" height="143.5" fill="none" stroke="#3a3a3a" stroke-width="1.5"/>
<line x1="298.8" y1="161.7" x2="298.8" y2="164.5" stroke="#2a2a2a" stroke-width="1.1" />
<line x1="350.1" y1="161.7" x2="350.1" y2="164.5" stroke="#2a2a2a" stroke-width="1.1" />
<line x1="401.4" y1="161.7" x2="401.4" y2="164.5" stroke="#2a2a2a" stroke-width="1.1" />
<line x1="452.7" y1="161.7" x2="452.7" y2="164.5" stroke="#2a2a2a" stroke-width="1.1" />
<line x1="262.94" y1="161.7" x2="262.94" y2="163.3" stroke="#2a2a2a" stroke-width="1.1" />
<line x1="271.98" y1="161.7" x2="271.98" y2="163.3" stroke="#2a2a2a" stroke-width="1.1" />
<line x1="278.39" y1="161.7" x2="278.39" y2="163.3" stroke="#2a2a2a" stroke-width="1.1" />
<line x1="283.36" y1="161.7" x2="283.36" y2="163.3" stroke="#2a2a2a" stroke-width="1.1" />
<line x1="287.42" y1="161.7" x2="287.42" y2="163.3" stroke="#2a2a2a" stroke-width="1.1" />
<line x1="290.85" y1="161.7" x2="290.85" y2="163.3" stroke="#2a2a2a" stroke-width="1.1" />
<line x1="293.83" y1="161.7" x2="293.83" y2="163.3" stroke="#2a2a2a" stroke-width="1.1" />
<line x1="296.45" y1="161.7" x2="296.45" y2="163.3" stroke="#2a2a2a" stroke-width="1.1" />
<line x1="314.24" y1="161.7" x2="314.24" y2="163.3" stroke="#2a2a2a" stroke-width="1.1" />
<line x1="323.28" y1="161.7" x2="323.28" y2="163.3" stroke="#2a2a2a" stroke-width="1.1" />
<line x1="329.69" y1="161.7" x2="329.69" y2="163.3" stroke="#2a2a2a" stroke-width="1.1" />
<line x1="334.66" y1="161.7" x2="334.66" y2="163.3" stroke="#2a2a2a" stroke-width="1.1" />
<line x1="338.72" y1="161.7" x2="338.72" y2="163.3" stroke="#2a2a2a" stroke-width="1.1" />
<line x1="342.15" y1="161.7" x2="342.15" y2="163.3" stroke="#2a2a2a" stroke-width="1.1" />
<line x1="345.13" y1="161.7" x2="345.13" y2="163.3" stroke="#2a2a2a" stroke-width="1.1" />
<line x1="347.75" y1="161.7" x2="347.75" y2="163.3" stroke="#2a2a2a" stroke-width="1.1" />
<line x1="365.54" y1="161.7" x2="365.54" y2="163.3" stroke="#2a2a2a" stroke-width="1.1" />
<line x1="374.58" y1="161.7" x2="374.58" y2="163.3" stroke="#2a2a2a" stroke-width="1.1" />
<line x1="380.99" y1="161.7" x2="380.99" y2="163.3" stroke="#2a2a2a" stroke-width="1.1" />
<line x1="385.96" y1="161.7" x2="385.96" y2="163.3" stroke="#2a2a2a" stroke-width="1.1" />
<line x1="390.02" y1="161.7" x2="390.02" y2="163.3" stroke="#2a2a2a" stroke-width="1.1" />
<line x1="393.45" y1="161.7" x2="393.45" y2="163.3" stroke="#2a2a2a" stroke-width="1.1" />
<line x1="396.43" y1="161.7" x2="396.43" y2="163.3" stroke="#2a2a2a" stroke-width="1.1" />
<line x1="399.05" y1="161.7" x2="399.05" y2="163.3" stroke="#2a2a2a" stroke-width="1.1" />
<line x1="416.84" y1="161.7" x2="416.84" y2="163.3" stroke="#2a2a2a" stroke-width="1.1" />
<line x1="425.88" y1="161.7" x2="425.88" y2="163.3" stroke="#2a2a2a" stroke-width="1.1" />
<line x1="432.29" y1="161.7" x2="432.29" y2="163.3" stroke="#2a2a2a" stroke-width="1.1" />
<line x1="437.26" y1="161.7" x2="437.26" y2="163.3" stroke="#2a2a2a" stroke-width="1.1" />
<line x1="441.32" y1="161.7" x2="441.32" y2="163.3" stroke="#2a2a2a" stroke-width="1.1" />
<line x1="444.75" y1="161.7" x2="444.75" y2="163.3" stroke="#2a2a2a" stroke-width="1.1" />
<line x1="447.73" y1="161.7" x2="447.73" y2="163.3" stroke="#2a2a2a" stroke-width="1.1" />
<line x1="450.35" y1="161.7" x2="450.35" y2="163.3" stroke="#2a2a2a" stroke-width="1.1" />
<text x="298.8" y="172.6" font-family="Liberation Sans" font-weight="bold" font-size="7.3" text-anchor="middle" fill="#111" >1E-3</text>
<text x="350.1" y="172.6" font-family="Liberation Sans" font-weight="bold" font-size="7.3" text-anchor="middle" fill="#111" >0.01</text>
<text x="401.4" y="172.6" font-family="Liberation Sans" font-weight="bold" font-size="7.3" text-anchor="middle" fill="#111" >0.1</text>
<text x="452.7" y="172.6" font-family="Liberation Sans" font-weight="bold" font-size="7.3" text-anchor="middle" fill="#111" >1</text>
<line x1="263" y1="159.3" x2="260.2" y2="159.3" stroke="#2a2a2a" stroke-width="1.1" />
<line x1="263" y1="133.64" x2="260.2" y2="133.64" stroke="#2a2a2a" stroke-width="1.1" />
<line x1="263" y1="107.98" x2="260.2" y2="107.98" stroke="#2a2a2a" stroke-width="1.1" />
<line x1="263" y1="82.32" x2="260.2" y2="82.32" stroke="#2a2a2a" stroke-width="1.1" />
<line x1="263" y1="56.66" x2="260.2" y2="56.66" stroke="#2a2a2a" stroke-width="1.1" />
<line x1="263" y1="31" x2="260.2" y2="31" stroke="#2a2a2a" stroke-width="1.1" />
<line x1="263" y1="146.47" x2="261.4" y2="146.47" stroke="#2a2a2a" stroke-width="1.1" />
<line x1="263" y1="120.81" x2="261.4" y2="120.81" stroke="#2a2a2a" stroke-width="1.1" />
<line x1="263" y1="95.15" x2="261.4" y2="95.15" stroke="#2a2a2a" stroke-width="1.1" />
<line x1="263" y1="69.49" x2="261.4" y2="69.49" stroke="#2a2a2a" stroke-width="1.1" />
<line x1="263" y1="43.83" x2="261.4" y2="43.83" stroke="#2a2a2a" stroke-width="1.1" />
<text x="258.3" y="161.9" font-family="Liberation Sans" font-weight="bold" font-size="7.3" text-anchor="end" fill="#111" >0</text>
<text x="258.3" y="136.24" font-family="Liberation Sans" font-weight="bold" font-size="7.3" text-anchor="end" fill="#111" >10</text>
<text x="258.3" y="110.58" font-family="Liberation Sans" font-weight="bold" font-size="7.3" text-anchor="end" fill="#111" >20</text>
<text x="258.3" y="84.92" font-family="Liberation Sans" font-weight="bold" font-size="7.3" text-anchor="end" fill="#111" >30</text>
<text x="258.3" y="59.26" font-family="Liberation Sans" font-weight="bold" font-size="7.3" text-anchor="end" fill="#111" >40</text>
<text x="258.3" y="33.6" font-family="Liberation Sans" font-weight="bold" font-size="7.3" text-anchor="end" fill="#111" >50</text>
<text x="359.5" y="185.2" font-family="Liberation Sans" font-weight="bold" font-size="7.4" text-anchor="middle" fill="#111" >Pressure (bar)</text>
<text transform="translate(240.6,88.6) rotate(-90)" font-family="Liberation Sans" font-weight="bold" font-size="7.5" text-anchor="middle" fill="#111">Gas uptake (cm<tspan font-size="4.65" baseline-shift="3">3</tspan> g<tspan font-size="4.65" baseline-shift="3">-1</tspan>)</text>
<text x="268.6" y="27.8" font-family="Liberation Sans" font-weight="bold" font-size="7.45" text-anchor="start" fill="#111" >Cu(bpy)NP&#160;&#160;&#160;&#160;298 K</text>
<text x="344.6" y="90.6" font-family="Liberation Sans" font-weight="bold" font-size="7" text-anchor="start" fill="#111" >C<tspan font-size="4.9" baseline-shift="-2.1">2</tspan>H<tspan font-size="4.9" baseline-shift="-2.1">2</tspan></text>
<text x="412.3" y="111.3" font-family="Liberation Sans" font-weight="bold" font-size="7" text-anchor="start" fill="#111" >C<tspan font-size="4.9" baseline-shift="-2.1">2</tspan>H<tspan font-size="4.9" baseline-shift="-2.1">4</tspan></text>
<text x="428" y="141.8" font-family="Liberation Sans" font-weight="bold" font-size="7" text-anchor="start" fill="#111" >CO<tspan font-size="4.9" baseline-shift="-2.1">2</tspan></text>
<text x="465.3" y="11.6" font-family="Liberation Serif" font-weight="bold" font-size="17" text-anchor="start" fill="#000" >(c)</text>
<rect x="497" y="28.9" width="9.8" height="127.3" fill="url(#gbar)"/>
<rect x="497" y="28.9" width="9.8" height="0.7" fill="#BEBEBE"/>
<rect x="509.1" y="37.5" width="9.8" height="118.7" fill="url(#gbar)"/>
<rect x="509.1" y="37.5" width="9.8" height="0.7" fill="#BEBEBE"/>
<rect x="521.2" y="40.3" width="9.8" height="115.9" fill="url(#gbar)"/>
<rect x="521.2" y="40.3" width="9.8" height="0.7" fill="#BEBEBE"/>
<rect x="533.4" y="43.1" width="9.8" height="113.1" fill="url(#gbar)"/>
<rect x="533.4" y="43.1" width="9.8" height="0.7" fill="#BEBEBE"/>
<rect x="545.8" y="66.7" width="9.8" height="89.5" fill="url(#gbarr)"/>
<rect x="546.8" y="66.7" width="7.8" height="0.9" fill="#FF6060"/>
<rect x="558.4" y="75.7" width="9.8" height="80.5" fill="url(#gbar)"/>
<rect x="558.4" y="75.7" width="9.8" height="0.7" fill="#BEBEBE"/>
<rect x="570.6" y="78" width="9.8" height="78.2" fill="url(#gbar)"/>
<rect x="570.6" y="78" width="9.8" height="0.7" fill="#BEBEBE"/>
<rect x="582.9" y="79.8" width="9.8" height="76.4" fill="url(#gbar)"/>
<rect x="582.9" y="79.8" width="9.8" height="0.7" fill="#BEBEBE"/>
<rect x="595.2" y="96.9" width="9.8" height="59.3" fill="url(#gbar)"/>
<rect x="595.2" y="96.9" width="9.8" height="0.7" fill="#BEBEBE"/>
<rect x="607.2" y="116" width="9.8" height="40.2" fill="url(#gbar)"/>
<rect x="607.2" y="116" width="9.8" height="0.7" fill="#BEBEBE"/>
<rect x="619.3" y="118" width="9.8" height="38.2" fill="url(#gbar)"/>
<rect x="619.3" y="118" width="9.8" height="0.7" fill="#BEBEBE"/>
<rect x="632" y="125.9" width="9.8" height="30.3" fill="url(#gbar)"/>
<rect x="632" y="125.9" width="9.8" height="0.7" fill="#BEBEBE"/>
<rect x="644.2" y="134.5" width="9.8" height="21.7" fill="url(#gbar)"/>
<rect x="644.2" y="134.5" width="9.8" height="0.7" fill="#BEBEBE"/>
<rect x="656.3" y="138.1" width="9.8" height="18.1" fill="url(#gbar)"/>
<rect x="656.3" y="138.1" width="9.8" height="0.7" fill="#BEBEBE"/>
<rect x="668.5" y="138.5" width="9.8" height="17.7" fill="url(#gbar)"/>
<rect x="668.5" y="138.5" width="9.8" height="0.7" fill="#BEBEBE"/>
<rect x="494.8" y="44.6" width="184.9" height="2.7" fill="#fff"/>
<polygon points="501.6,23.9 502.22,25.55 503.98,25.63 502.6,26.72 503.07,28.42 501.6,27.45 500.13,28.42 500.6,26.72 499.22,25.63 500.98,25.55" fill="#141414"/>
<polygon points="563,70.7 563.62,72.35 565.38,72.43 564,73.52 564.47,75.22 563,74.25 561.53,75.22 562,73.52 560.62,72.43 562.38,72.35" fill="#141414"/>
<polygon points="587.5,74.8 588.12,76.45 589.88,76.53 588.5,77.62 588.97,79.32 587.5,78.35 586.03,79.32 586.5,77.62 585.12,76.53 586.88,76.45" fill="#141414"/>
<polygon points="599.8,91.9 600.42,93.55 602.18,93.63 600.8,94.72 601.27,96.42 599.8,95.45 598.33,96.42 598.8,94.72 597.42,93.63 599.18,93.55" fill="#141414"/>
<polygon points="648.8,129.5 649.42,131.15 651.18,131.23 649.8,132.32 650.27,134.02 648.8,133.05 647.33,134.02 647.8,132.32 646.42,131.23 648.18,131.15" fill="#141414"/>
<rect x="494" y="18.4" width="186.5" height="137.9" fill="none" stroke="#2a2a2a" stroke-width="1.3"/>
<rect x="492" y="45.2" width="4" height="2.2" fill="#fff"/>
<line x1="491" y1="46.5" x2="497" y2="43.9" stroke="#2a2a2a" stroke-width="1.0" />
<line x1="491" y1="48.9" x2="497" y2="46.3" stroke="#2a2a2a" stroke-width="1.0" />
<rect x="678.5" y="45.2" width="4" height="2.2" fill="#fff"/>
<line x1="677.5" y1="46.5" x2="683.5" y2="43.9" stroke="#2a2a2a" stroke-width="1.0" />
<line x1="677.5" y1="48.9" x2="683.5" y2="46.3" stroke="#2a2a2a" stroke-width="1.0" />
<line x1="494" y1="18.5" x2="491.2" y2="18.5" stroke="#2a2a2a" stroke-width="1.1" />
<line x1="494" y1="37.5" x2="491.2" y2="37.5" stroke="#2a2a2a" stroke-width="1.1" />
<line x1="494" y1="28" x2="492.4" y2="28" stroke="#2a2a2a" stroke-width="1.1" />
<text x="489.6" y="21.1" font-family="Liberation Sans" font-weight="bold" font-size="7.3" text-anchor="end" fill="#111" >60</text>
<text x="489.6" y="40.1" font-family="Liberation Sans" font-weight="bold" font-size="7.3" text-anchor="end" fill="#111" >40</text>
<line x1="494" y1="156.2" x2="491.2" y2="156.2" stroke="#2a2a2a" stroke-width="1.1" />
<line x1="494" y1="136.4" x2="491.2" y2="136.4" stroke="#2a2a2a" stroke-width="1.1" />
<line x1="494" y1="116.6" x2="491.2" y2="116.6" stroke="#2a2a2a" stroke-width="1.1" />
<line x1="494" y1="96.8" x2="491.2" y2="96.8" stroke="#2a2a2a" stroke-width="1.1" />
<line x1="494" y1="77" x2="491.2" y2="77" stroke="#2a2a2a" stroke-width="1.1" />
<line x1="494" y1="57.2" x2="491.2" y2="57.2" stroke="#2a2a2a" stroke-width="1.1" />
<line x1="494" y1="146.3" x2="492.4" y2="146.3" stroke="#2a2a2a" stroke-width="1.1" />
<line x1="494" y1="126.5" x2="492.4" y2="126.5" stroke="#2a2a2a" stroke-width="1.1" />
<line x1="494" y1="106.7" x2="492.4" y2="106.7" stroke="#2a2a2a" stroke-width="1.1" />
<line x1="494" y1="86.9" x2="492.4" y2="86.9" stroke="#2a2a2a" stroke-width="1.1" />
<line x1="494" y1="67.1" x2="492.4" y2="67.1" stroke="#2a2a2a" stroke-width="1.1" />
<text x="489.6" y="158.8" font-family="Liberation Sans" font-weight="bold" font-size="7.3" text-anchor="end" fill="#111" >0</text>
<text x="489.6" y="139" font-family="Liberation Sans" font-weight="bold" font-size="7.3" text-anchor="end" fill="#111" >5</text>
<text x="489.6" y="119.2" font-family="Liberation Sans" font-weight="bold" font-size="7.3" text-anchor="end" fill="#111" >10</text>
<text x="489.6" y="99.4" font-family="Liberation Sans" font-weight="bold" font-size="7.3" text-anchor="end" fill="#111" >15</text>
<text x="489.6" y="79.6" font-family="Liberation Sans" font-weight="bold" font-size="7.3" text-anchor="end" fill="#111" >20</text>
<text x="489.6" y="59.8" font-family="Liberation Sans" font-weight="bold" font-size="7.3" text-anchor="end" fill="#111" >25</text>
<text transform="translate(474.2,87) rotate(-90)" font-family="Liberation Sans" font-weight="bold" font-size="6.95" text-anchor="middle" fill="#111">C<tspan font-size="4.87" baseline-shift="-2.08">2</tspan>H<tspan font-size="4.87" baseline-shift="-2.08">2</tspan> uptake at 0.01 bar (cm<tspan font-size="4.46" baseline-shift="2.88">3</tspan> g<tspan font-size="4.46" baseline-shift="2.88">-1</tspan>)</text>
<polygon points="589,25 589.57,26.52 591.19,26.59 589.92,27.6 590.35,29.16 589,28.27 587.65,29.16 588.08,27.6 586.81,26.59 588.43,26.52" fill="#141414"/>
<text x="593.8" y="33.8" font-family="Liberation Sans" font-weight="bold" font-size="7.7" text-anchor="start" fill="#111" >adsorbent with OMSs</text>
<text transform="translate(505.6,161.9) rotate(-37.5)" font-family="Liberation Sans" font-weight="bold" font-size="6.4" text-anchor="end" fill="#151515">ZJU-74</text>
<text transform="translate(517.7,161.9) rotate(-37.5)" font-family="Liberation Sans" font-weight="bold" font-size="6.4" text-anchor="end" fill="#151515">TIFSIX-2-Cu-i</text>
<text transform="translate(529.8,161.9) rotate(-37.5)" font-family="Liberation Sans" font-weight="bold" font-size="6.4" text-anchor="end" fill="#151515">SOFOUR-1-Zn</text>
<text transform="translate(542,161.9) rotate(-37.5)" font-family="Liberation Sans" font-weight="bold" font-size="6.4" text-anchor="end" fill="#151515">ZJU-280</text>
<text transform="translate(579.2,161.9) rotate(-37.5)" font-family="Liberation Sans" font-weight="bold" font-size="6.4" text-anchor="end" fill="#151515">SNNU-45</text>
<text transform="translate(591.5,161.9) rotate(-37.5)" font-family="Liberation Sans" font-weight="bold" font-size="6.4" text-anchor="end" fill="#151515">UTSA-74a</text>
<text transform="translate(603.8,161.9) rotate(-37.5)" font-family="Liberation Sans" font-weight="bold" font-size="6.4" text-anchor="end" fill="#151515">Zn-MOF-74</text>
<text transform="translate(615.8,161.9) rotate(-37.5)" font-family="Liberation Sans" font-weight="bold" font-size="6.4" text-anchor="end" fill="#151515">JCM-1</text>
<text transform="translate(627.9,161.9) rotate(-37.5)" font-family="Liberation Sans" font-weight="bold" font-size="6.4" text-anchor="end" fill="#151515">DICRO-4-Ni-i</text>
<text transform="translate(640.6,161.9) rotate(-37.5)" font-family="Liberation Sans" font-weight="bold" font-size="6.4" text-anchor="end" fill="#151515">FJU-90</text>
<text transform="translate(652.8,161.9) rotate(-37.5)" font-family="Liberation Sans" font-weight="bold" font-size="6.4" text-anchor="end" fill="#151515">JNU-1</text>
<text transform="translate(664.9,161.9) rotate(-37.5)" font-family="Liberation Sans" font-weight="bold" font-size="6.4" text-anchor="end" fill="#151515">HOF-3a</text>
<text transform="translate(677.1,161.9) rotate(-37.5)" font-family="Liberation Sans" font-weight="bold" font-size="6.4" text-anchor="end" fill="#151515">SIFSIX-3-Ni</text>
<text transform="translate(554.5,161.9) rotate(-37.5)" font-family="Liberation Sans" font-weight="bold" font-size="6.35" text-anchor="end" fill="#FF0A0A">Cu(bpy)NP</text>
<text transform="translate(565.9,161.6) rotate(-38)" font-family="Liberation Sans" font-weight="bold" font-size="4.1" text-anchor="end" fill="#2a2a2a">Cu'@UiO-66-(COOH)<tspan font-size="3.1" dy="1">2</tspan></text>
<line x1="465" y1="188" x2="685" y2="188" stroke="#EAEAEA" stroke-width="1.2" />
<text x="0.5" y="202.4" font-family="Liberation Serif" font-weight="bold" font-size="17" text-anchor="start" fill="#000" >(d)</text>
<polyline points="32.1,255.19 35.26,253.76 38.43,252.41 41.59,251.16 44.75,249.99 47.91,248.91 51.08,247.91 54.24,246.99 57.4,246.15 60.56,245.38 63.73,244.7 66.89,244.08 70.05,243.54 73.22,243.07 76.38,242.66 79.54,242.33 82.7,242.05 85.87,241.84 89.03,241.69 92.19,241.6 95.35,241.56 98.52,241.58 101.68,241.65 104.84,241.77 108.01,241.94 111.17,242.16 114.33,242.42 117.49,242.73 120.66,243.08 123.82,243.47 126.98,243.9 130.14,244.36 133.31,244.85 136.47,245.38 139.63,245.94 142.79,246.53 145.96,247.14 149.12,247.78 152.28,248.44 155.45,249.13 158.61,249.83 161.77,250.55 164.93,251.28 168.1,252.03 171.26,252.79 174.42,253.56 177.58,254.33 180.75,255.12 183.91,255.9 187.07,256.69 190.24,257.48 193.4,258.27 196.56,259.05 199.72,259.83 202.89,260.6 206.05,261.36 209.21,262.11 212.37,262.85 215.54,263.58 218.7,264.28" fill="none" stroke="#FF8C14" stroke-width="1.6" stroke-linejoin="round"/>
<polyline points="32.1,278.87 34.59,278.81 37.08,278.76 39.57,278.7 42.07,278.65 44.56,278.59 47.05,278.54 49.54,278.48 52.03,278.43 54.52,278.37 57.02,278.31 59.51,278.25 62,278.19 64.49,278.13 66.98,278.07 69.47,278 71.96,277.94 74.46,277.87 76.95,277.8 79.44,277.73 81.93,277.65 84.42,277.58 86.91,277.5 89.41,277.42 91.9,277.33 94.39,277.24 96.88,277.15 99.37,277.06 101.86,276.96 104.35,276.86 106.85,276.75 109.34,276.65 111.83,276.53 114.32,276.42 116.81,276.29 119.3,276.17 121.79,276.04 124.29,275.9 126.78,275.76 129.27,275.62 131.76,275.47 134.25,275.31 136.74,275.15 139.24,274.99 141.73,274.82 144.22,274.64 146.71,274.46 149.2,274.27 151.69,274.07 154.18,273.87 156.68,273.66 159.17,273.44 161.66,273.22 164.15,272.99 166.64,272.76 169.13,272.51 171.63,272.26 174.12,272 176.61,271.74 179.1,271.46" fill="none" stroke="#0010FF" stroke-width="1.6" stroke-linejoin="round"/>
<polyline points="32.1,318.41 33.97,318.83 35.83,319.21 37.7,319.57 39.56,319.9 41.43,320.21 43.3,320.49 45.16,320.75 47.03,320.99 48.89,321.2 50.76,321.38 52.63,321.55 54.49,321.69 56.36,321.81 58.23,321.91 60.09,321.99 61.96,322.05 63.82,322.09 65.69,322.11 67.56,322.12 69.42,322.1 71.29,322.07 73.15,322.02 75.02,321.95 76.89,321.87 78.75,321.77 80.62,321.65 82.48,321.53 84.35,321.38 86.22,321.23 88.08,321.06 89.95,320.87 91.82,320.68 93.68,320.47 95.55,320.26 97.41,320.03 99.28,319.79 101.15,319.54 103.01,319.29 104.88,319.02 106.74,318.75 108.61,318.46 110.48,318.18 112.34,317.88 114.21,317.58 116.07,317.27 117.94,316.96 119.81,316.64 121.67,316.32 123.54,315.99 125.41,315.66 127.27,315.33 129.14,315 131,314.66 132.87,314.32 134.74,313.98 136.6,313.65 138.47,313.31 140.33,312.97 142.2,312.63" fill="none" stroke="#FF0A0A" stroke-width="1.6" stroke-linejoin="round"/>
<rect x="31.9" y="210" width="193.6" height="144.2" fill="none" stroke="#2a2a2a" stroke-width="1.3"/>
<line x1="31.9" y1="354.2" x2="31.9" y2="356.8" stroke="#2a2a2a" stroke-width="1.1" />
<line x1="80.3" y1="354.2" x2="80.3" y2="356.8" stroke="#2a2a2a" stroke-width="1.1" />
<line x1="128.7" y1="354.2" x2="128.7" y2="356.8" stroke="#2a2a2a" stroke-width="1.1" />
<line x1="177.1" y1="354.2" x2="177.1" y2="356.8" stroke="#2a2a2a" stroke-width="1.1" />
<line x1="225.5" y1="354.2" x2="225.5" y2="356.8" stroke="#2a2a2a" stroke-width="1.1" />
<line x1="56.1" y1="354.2" x2="56.1" y2="355.7" stroke="#2a2a2a" stroke-width="1.1" />
<line x1="104.5" y1="354.2" x2="104.5" y2="355.7" stroke="#2a2a2a" stroke-width="1.1" />
<line x1="152.9" y1="354.2" x2="152.9" y2="355.7" stroke="#2a2a2a" stroke-width="1.1" />
<line x1="201.3" y1="354.2" x2="201.3" y2="355.7" stroke="#2a2a2a" stroke-width="1.1" />
<text x="31.9" y="364.6" font-family="Liberation Sans" font-weight="bold" font-size="7.2" text-anchor="middle" fill="#111" >0.0</text>
<text x="80.3" y="364.6" font-family="Liberation Sans" font-weight="bold" font-size="7.2" text-anchor="middle" fill="#111" >0.4</text>
<text x="128.7" y="364.6" font-family="Liberation Sans" font-weight="bold" font-size="7.2" text-anchor="middle" fill="#111" >0.8</text>
<text x="177.1" y="364.6" font-family="Liberation Sans" font-weight="bold" font-size="7.2" text-anchor="middle" fill="#111" >1.2</text>
<text x="225.5" y="364.6" font-family="Liberation Sans" font-weight="bold" font-size="7.2" text-anchor="middle" fill="#111" >1.6</text>
<line x1="31.9" y1="354.2" x2="29.3" y2="354.2" stroke="#2a2a2a" stroke-width="1.1" />
<line x1="31.9" y1="330.2" x2="29.3" y2="330.2" stroke="#2a2a2a" stroke-width="1.1" />
<line x1="31.9" y1="306.2" x2="29.3" y2="306.2" stroke="#2a2a2a" stroke-width="1.1" />
<line x1="31.9" y1="282.2" x2="29.3" y2="282.2" stroke="#2a2a2a" stroke-width="1.1" />
<line x1="31.9" y1="258.2" x2="29.3" y2="258.2" stroke="#2a2a2a" stroke-width="1.1" />
<line x1="31.9" y1="234.2" x2="29.3" y2="234.2" stroke="#2a2a2a" stroke-width="1.1" />
<line x1="31.9" y1="210.2" x2="29.3" y2="210.2" stroke="#2a2a2a" stroke-width="1.1" />
<line x1="31.9" y1="342.2" x2="30.4" y2="342.2" stroke="#2a2a2a" stroke-width="1.1" />
<line x1="31.9" y1="318.2" x2="30.4" y2="318.2" stroke="#2a2a2a" stroke-width="1.1" />
<line x1="31.9" y1="294.2" x2="30.4" y2="294.2" stroke="#2a2a2a" stroke-width="1.1" />
<line x1="31.9" y1="270.2" x2="30.4" y2="270.2" stroke="#2a2a2a" stroke-width="1.1" />
<line x1="31.9" y1="246.2" x2="30.4" y2="246.2" stroke="#2a2a2a" stroke-width="1.1" />
<line x1="31.9" y1="222.2" x2="30.4" y2="222.2" stroke="#2a2a2a" stroke-width="1.1" />
<text x="26.3" y="356.8" font-family="Liberation Sans" font-weight="bold" font-size="7.2" text-anchor="end" fill="#111" >0</text>
<text x="26.3" y="332.8" font-family="Liberation Sans" font-weight="bold" font-size="7.2" text-anchor="end" fill="#111" >10</text>
<text x="26.3" y="308.8" font-family="Liberation Sans" font-weight="bold" font-size="7.2" text-anchor="end" fill="#111" >20</text>
<text x="26.3" y="284.8" font-family="Liberation Sans" font-weight="bold" font-size="7.2" text-anchor="end" fill="#111" >30</text>
<text x="26.3" y="260.8" font-family="Liberation Sans" font-weight="bold" font-size="7.2" text-anchor="end" fill="#111" >40</text>
<text x="26.3" y="236.8" font-family="Liberation Sans" font-weight="bold" font-size="7.2" text-anchor="end" fill="#111" >50</text>
<text x="26.3" y="212.8" font-family="Liberation Sans" font-weight="bold" font-size="7.2" text-anchor="end" fill="#111" >60</text>
<text x="128.7" y="374.5" font-family="Liberation Sans" font-weight="bold" font-size="7.4" text-anchor="middle" fill="#111" >Gas uptake (mmol g<tspan font-size="4.59" baseline-shift="2.96">-1</tspan>)</text>
<text transform="translate(8.5,279) rotate(-90)" font-family="Liberation Sans" font-weight="bold" font-size="7.4" text-anchor="middle" fill="#111">Q<tspan font-size="5.18" baseline-shift="-2.22">st</tspan> (kJ mol<tspan font-size="4.59" baseline-shift="2.96">-1</tspan>)</text>
<text x="206.3" y="259.1" font-family="Liberation Sans" font-weight="bold" font-size="6.6" text-anchor="start" fill="#111" >C<tspan font-size="4.62" baseline-shift="-1.98">2</tspan>H<tspan font-size="4.62" baseline-shift="-1.98">2</tspan></text>
<text x="182.5" y="275" font-family="Liberation Sans" font-weight="bold" font-size="6.6" text-anchor="start" fill="#111" >C<tspan font-size="4.62" baseline-shift="-1.98">2</tspan>H<tspan font-size="4.62" baseline-shift="-1.98">4</tspan></text>
<text x="145.6" y="315.8" font-family="Liberation Sans" font-weight="bold" font-size="6.6" text-anchor="start" fill="#111" >CO<tspan font-size="4.62" baseline-shift="-1.98">2</tspan></text>
<text x="234" y="201.5" font-family="Liberation Serif" font-weight="bold" font-size="17" text-anchor="start" fill="#000" >(e)</text>
<line x1="279" y1="302.4" x2="277.3" y2="321.5" stroke="#707070" stroke-width="0.6" />
<polygon points="276.52,319.44 277.3,321.5 278.43,319.61" fill="#707070"/>
<line x1="290.5" y1="298" x2="285" y2="333.5" stroke="#707070" stroke-width="0.6" />
<polygon points="284.36,331.4 285,333.5 286.25,331.69" fill="#707070"/>
<line x1="330.7" y1="300.5" x2="334.2" y2="337" stroke="#707070" stroke-width="0.6" />
<polygon points="333.06,335.12 334.2,337 334.96,334.94" fill="#707070"/>
<line x1="301.4" y1="276.3" x2="290.5" y2="285.5" stroke="#707070" stroke-width="0.6" />
<polygon points="291.4,283.49 290.5,285.5 292.63,284.95" fill="#707070"/>
<polyline points="302.6,263.2 303.4,267.2 309.5,267.2" fill="none" stroke="#555" stroke-width="0.6"/>
<circle cx="279.3" cy="271.5" r="3.4" fill="url(#gsp)"/>
<circle cx="316.6" cy="266.3" r="3.4" fill="url(#gsp)"/>
<circle cx="307.4" cy="280.3" r="3.4" fill="url(#gsp)"/>
<circle cx="289.2" cy="286.4" r="3.4" fill="url(#gsp)"/>
<circle cx="294.2" cy="289.4" r="3.4" fill="url(#gsp)"/>
<circle cx="301.8" cy="291.4" r="3.4" fill="url(#gsp)"/>
<circle cx="284" cy="295.8" r="3.4" fill="url(#gsp)"/>
<circle cx="278.5" cy="300.4" r="3.4" fill="url(#gsp)"/>
<circle cx="294.6" cy="304.2" r="3.4" fill="url(#gsp)"/>
<circle cx="285" cy="308.6" r="3.4" fill="url(#gsp)"/>
<circle cx="330.4" cy="297.3" r="3.4" fill="url(#gsp)"/>
<circle cx="351.7" cy="288.3" r="3.4" fill="url(#gsp)"/>
<circle cx="321.3" cy="314.6" r="3.4" fill="url(#gsp)"/>
<circle cx="315.4" cy="325.2" r="3.4" fill="url(#gsp)"/>
<circle cx="393.8" cy="239.6" r="3.4" fill="url(#gsp)"/>
<circle cx="450.6" cy="245.7" r="3.4" fill="url(#gsp)"/>
<circle cx="400.7" cy="275.3" r="3.4" fill="url(#gsp)"/>
<circle cx="425.1" cy="280.9" r="3.4" fill="url(#gsp)"/>
<polygon points="378.7,288.9 380.06,292.53 383.93,292.7 380.9,295.11 381.93,298.85 378.7,296.71 375.47,298.85 376.5,295.11 373.47,292.7 377.34,292.53" fill="#FF0A0A"/>
<rect x="360.4" y="267.1" width="96.1" height="28.8" fill="#20A3D9" fill-opacity="0.19"/>
<line x1="360.4" y1="209.3" x2="360.4" y2="353.5" stroke="#222" stroke-width="0.9" stroke-dasharray="3.2,2.2"/>
<line x1="263.4" y1="267.1" x2="456.5" y2="267.1" stroke="#222" stroke-width="0.9" stroke-dasharray="3.2,2.2"/>
<line x1="263.4" y1="295.9" x2="456.5" y2="295.9" stroke="#222" stroke-width="0.9" stroke-dasharray="3.2,2.2"/>
<text x="362.8" y="306.1" font-family="Liberation Sans" font-weight="bold" font-size="8.2" text-anchor="start" fill="#FF0A0A" >Cu(bpy)NP</text>
<text x="264.9" y="267.1" font-family="Liberation Sans" font-weight="bold" font-size="6.05" text-anchor="start" fill="#1a1a1a" >SOFOUR-1-Zn</text>
<text x="308.7" y="262.6" font-family="Liberation Sans" font-weight="bold" font-size="6.05" text-anchor="start" fill="#1a1a1a" >NKMOF-1-Ni</text>
<text x="288.4" y="275.5" font-family="Liberation Sans" font-weight="bold" font-size="6.05" text-anchor="start" fill="#1a1a1a" >TIFSIX-2-Cu-i</text>
<text x="311.8" y="280.9" font-family="Liberation Sans" font-weight="bold" font-size="6.05" text-anchor="start" fill="#1a1a1a" >ZJU-280</text>
<text x="335.9" y="284.7" font-family="Liberation Sans" font-weight="bold" font-size="6.05" text-anchor="start" fill="#1a1a1a" >ZJU-74a</text>
<text x="263.8" y="292.8" font-family="Liberation Sans" font-weight="bold" font-size="6.05" text-anchor="start" fill="#1a1a1a" >SNNU-45</text>
<text x="305.7" y="293.2" font-family="Liberation Sans" font-weight="bold" font-size="6.05" text-anchor="start" fill="#1a1a1a" >UiO-66-(CF<tspan font-size="4.4" dy="1.2">3</tspan><tspan dy="-1.2">)</tspan><tspan font-size="4.4" dy="1.2">2</tspan></text>
<text x="298.9" y="308.6" font-family="Liberation Sans" font-weight="bold" font-size="6.05" text-anchor="start" fill="#1a1a1a" >pacs-CoMOF-2a</text>
<text x="280" y="318.2" font-family="Liberation Sans" font-weight="bold" font-size="6.05" text-anchor="start" fill="#1a1a1a" >UTSA-74a</text>
<text x="325" y="321.8" font-family="Liberation Sans" font-weight="bold" font-size="6.05" text-anchor="start" fill="#1a1a1a" >FeNi-M'MOF</text>
<text x="264.8" y="327.4" font-family="Liberation Sans" font-weight="bold" font-size="6.05" text-anchor="start" fill="#1a1a1a" >SIFSIX-22-Zn</text>
<text x="305.3" y="335.1" font-family="Liberation Sans" font-weight="bold" font-size="6.05" text-anchor="start" fill="#1a1a1a" >HOF-3a</text>
<text x="272" y="340.2" font-family="Liberation Sans" font-weight="bold" font-size="6.05" text-anchor="start" fill="#1a1a1a" >BSF-3-Co</text>
<text x="316.2" y="344.4" font-family="Liberation Sans" font-weight="bold" font-size="6.05" text-anchor="start" fill="#1a1a1a" >sql-16-Cu-NO<tspan font-size="4.4" dy="1.2">3</tspan></text>
<text x="383.3" y="236" font-family="Liberation Sans" font-weight="bold" font-size="6.05" text-anchor="start" fill="#1a1a1a" >ATC-Cu</text>
<text x="395.2" y="255.7" font-family="Liberation Sans" font-weight="bold" font-size="6.05" text-anchor="start" fill="#1a1a1a" >Cu<tspan font-size="4.4" dy="-2">I</tspan><tspan dy="2">@UiO-66-(COOH)</tspan><tspan font-size="4.4" dy="1.2">2</tspan></text>
<text x="379.4" y="277" font-family="Liberation Sans" font-weight="bold" font-size="6.05" text-anchor="start" fill="#1a1a1a" >ZNU-1</text>
<text x="411.8" y="277" font-family="Liberation Sans" font-weight="bold" font-size="6.05" text-anchor="start" fill="#1a1a1a" >CPL-1-NH<tspan font-size="4.4" dy="1.2">2</tspan></text>
<rect x="263.4" y="209.3" width="193.1" height="144.2" fill="none" stroke="#111" stroke-width="1.1"/>
<rect x="416.0" y="208.1" width="4.2" height="2.4" fill="#fff"/>
<line x1="414.4" y1="212.6" x2="418.4" y2="206.2" stroke="#111" stroke-width="1.1" />
<line x1="418" y1="212.6" x2="422" y2="206.2" stroke="#111" stroke-width="1.1" />
<rect x="416.0" y="352.3" width="4.2" height="2.4" fill="#fff"/>
<line x1="414.4" y1="356.8" x2="418.4" y2="350.4" stroke="#111" stroke-width="1.1" />
<line x1="418" y1="356.8" x2="422" y2="350.4" stroke="#111" stroke-width="1.1" />
<line x1="263" y1="353.5" x2="263" y2="356.1" stroke="#111" stroke-width="1.0" />
<line x1="287.56" y1="353.5" x2="287.56" y2="356.1" stroke="#111" stroke-width="1.0" />
<line x1="312.12" y1="353.5" x2="312.12" y2="356.1" stroke="#111" stroke-width="1.0" />
<line x1="336.68" y1="353.5" x2="336.68" y2="356.1" stroke="#111" stroke-width="1.0" />
<line x1="361.24" y1="353.5" x2="361.24" y2="356.1" stroke="#111" stroke-width="1.0" />
<line x1="385.8" y1="353.5" x2="385.8" y2="356.1" stroke="#111" stroke-width="1.0" />
<line x1="410.36" y1="353.5" x2="410.36" y2="356.1" stroke="#111" stroke-width="1.0" />
<line x1="425.4" y1="353.5" x2="425.4" y2="356.1" stroke="#111" stroke-width="1.0" />
<line x1="441.1" y1="353.5" x2="441.1" y2="356.1" stroke="#111" stroke-width="1.0" />
<line x1="456.8" y1="353.5" x2="456.8" y2="356.1" stroke="#111" stroke-width="1.0" />
<line x1="275.28" y1="353.5" x2="275.28" y2="354.9" stroke="#111" stroke-width="0.9" />
<line x1="299.84" y1="353.5" x2="299.84" y2="354.9" stroke="#111" stroke-width="0.9" />
<line x1="324.4" y1="353.5" x2="324.4" y2="354.9" stroke="#111" stroke-width="0.9" />
<line x1="348.96" y1="353.5" x2="348.96" y2="354.9" stroke="#111" stroke-width="0.9" />
<line x1="373.52" y1="353.5" x2="373.52" y2="354.9" stroke="#111" stroke-width="0.9" />
<line x1="398.08" y1="353.5" x2="398.08" y2="354.9" stroke="#111" stroke-width="0.9" />
<line x1="433.25" y1="353.5" x2="433.25" y2="354.9" stroke="#111" stroke-width="0.9" />
<line x1="448.95" y1="353.5" x2="448.95" y2="354.9" stroke="#111" stroke-width="0.9" />
<text x="263" y="364.2" font-family="Liberation Sans" font-weight="bold" font-size="7.2" text-anchor="middle" fill="#111" >0</text>
<text x="287.56" y="364.2" font-family="Liberation Sans" font-weight="bold" font-size="7.2" text-anchor="middle" fill="#111" >10</text>
<text x="312.12" y="364.2" font-family="Liberation Sans" font-weight="bold" font-size="7.2" text-anchor="middle" fill="#111" >20</text>
<text x="336.68" y="364.2" font-family="Liberation Sans" font-weight="bold" font-size="7.2" text-anchor="middle" fill="#111" >30</text>
<text x="361.24" y="364.2" font-family="Liberation Sans" font-weight="bold" font-size="7.2" text-anchor="middle" fill="#111" >40</text>
<text x="385.8" y="364.2" font-family="Liberation Sans" font-weight="bold" font-size="7.2" text-anchor="middle" fill="#111" >50</text>
<text x="410.36" y="364.2" font-family="Liberation Sans" font-weight="bold" font-size="7.2" text-anchor="middle" fill="#111" >60</text>
<text x="425.4" y="364.2" font-family="Liberation Sans" font-weight="bold" font-size="7.2" text-anchor="middle" fill="#111" >120</text>
<text x="441.1" y="364.2" font-family="Liberation Sans" font-weight="bold" font-size="7.2" text-anchor="middle" fill="#111" >160</text>
<text x="456.8" y="364.2" font-family="Liberation Sans" font-weight="bold" font-size="7.2" text-anchor="middle" fill="#111" >200</text>
<line x1="263.4" y1="353.5" x2="260.8" y2="353.5" stroke="#111" stroke-width="1.0" />
<line x1="263.4" y1="324.7" x2="260.8" y2="324.7" stroke="#111" stroke-width="1.0" />
<line x1="263.4" y1="295.9" x2="260.8" y2="295.9" stroke="#111" stroke-width="1.0" />
<line x1="263.4" y1="267.1" x2="260.8" y2="267.1" stroke="#111" stroke-width="1.0" />
<line x1="263.4" y1="238.3" x2="260.8" y2="238.3" stroke="#111" stroke-width="1.0" />
<line x1="263.4" y1="209.5" x2="260.8" y2="209.5" stroke="#111" stroke-width="1.0" />
<line x1="263.4" y1="339.1" x2="262" y2="339.1" stroke="#111" stroke-width="0.9" />
<line x1="263.4" y1="310.3" x2="262" y2="310.3" stroke="#111" stroke-width="0.9" />
<line x1="263.4" y1="281.5" x2="262" y2="281.5" stroke="#111" stroke-width="0.9" />
<line x1="263.4" y1="252.7" x2="262" y2="252.7" stroke="#111" stroke-width="0.9" />
<line x1="263.4" y1="223.9" x2="262" y2="223.9" stroke="#111" stroke-width="0.9" />
<text x="257.7" y="356.1" font-family="Liberation Sans" font-weight="bold" font-size="7.2" text-anchor="end" fill="#111" >0</text>
<text x="257.7" y="327.3" font-family="Liberation Sans" font-weight="bold" font-size="7.2" text-anchor="end" fill="#111" >20</text>
<text x="257.7" y="298.5" font-family="Liberation Sans" font-weight="bold" font-size="7.2" text-anchor="end" fill="#111" >40</text>
<text x="257.7" y="269.7" font-family="Liberation Sans" font-weight="bold" font-size="7.2" text-anchor="end" fill="#111" >60</text>
<text x="257.7" y="240.9" font-family="Liberation Sans" font-weight="bold" font-size="7.2" text-anchor="end" fill="#111" >80</text>
<text x="257.7" y="212.1" font-family="Liberation Sans" font-weight="bold" font-size="7.2" text-anchor="end" fill="#111" >100</text>
<text x="300" y="375.6" font-family="Liberation Sans" font-weight="bold" font-size="7.2" text-anchor="start" fill="#111" >IAST selectivity for 50/50 C<tspan font-size="5.04" baseline-shift="-2.16">2</tspan>H<tspan font-size="5.04" baseline-shift="-2.16">2</tspan>/CO<tspan font-size="5.04" baseline-shift="-2.16">2</tspan></text>
<text transform="translate(239.3,281.7) rotate(-90)" font-family="Liberation Sans" font-weight="bold" font-size="7.3" text-anchor="middle" fill="#111">Q<tspan font-size="5.11" baseline-shift="-2.19">st</tspan> C<tspan font-size="5.11" baseline-shift="-2.19">2</tspan>H<tspan font-size="5.11" baseline-shift="-2.19">2</tspan> (kJ mol<tspan font-size="4.53" baseline-shift="2.92">-1</tspan>)</text>
<text x="466" y="201.5" font-family="Liberation Serif" font-weight="bold" font-size="17" text-anchor="start" fill="#000" >(f)</text>
<line x1="531.9" y1="314.5" x2="540.2" y2="314.1" stroke="#707070" stroke-width="0.6" />
<polygon points="538.27,315.15 540.2,314.1 538.18,313.24" fill="#707070"/>
<line x1="526.8" y1="318.9" x2="530.9" y2="327.6" stroke="#707070" stroke-width="0.6" />
<polygon points="529.19,326.22 530.9,327.6 530.92,325.4" fill="#707070"/>
<line x1="542.8" y1="335.5" x2="556" y2="327.4" stroke="#707070" stroke-width="0.6" />
<polygon points="554.81,329.25 556,327.4 553.81,327.62" fill="#707070"/>
<line x1="510.9" y1="325.4" x2="515" y2="333" stroke="#707070" stroke-width="0.6" />
<line x1="528.5" y1="340.7" x2="538.5" y2="342.4" stroke="#707070" stroke-width="0.6" />
<polygon points="536.39,343.01 538.5,342.4 536.71,341.12" fill="#707070"/>
<line x1="509.5" y1="345.4" x2="520.3" y2="347.9" stroke="#707070" stroke-width="0.6" />
<polygon points="518.15,348.39 520.3,347.9 518.59,346.52" fill="#707070"/>
<circle cx="518.9" cy="306.1" r="3.4" fill="url(#gsp)"/>
<circle cx="550.8" cy="307" r="3.4" fill="url(#gsp)"/>
<circle cx="518.6" cy="313.4" r="3.4" fill="url(#gsp)"/>
<circle cx="525.1" cy="316.3" r="3.4" fill="url(#gsp)"/>
<circle cx="529.6" cy="315.7" r="3.4" fill="url(#gsp)"/>
<circle cx="515.9" cy="335.6" r="3.4" fill="url(#gsp)"/>
<circle cx="502.5" cy="338" r="3.4" fill="url(#gsp)"/>
<circle cx="541.1" cy="337.5" r="3.4" fill="url(#gsp)"/>
<circle cx="563.9" cy="334.8" r="3.4" fill="url(#gsp)"/>
<circle cx="525.1" cy="340.4" r="3.4" fill="url(#gsp)"/>
<circle cx="500.8" cy="343.3" r="3.4" fill="url(#gsp)"/>
<circle cx="506.5" cy="344.7" r="3.4" fill="url(#gsp)"/>
<circle cx="568.6" cy="248.3" r="3.4" fill="url(#gsp)"/>
<circle cx="629.4" cy="290" r="3.4" fill="url(#gsp)"/>
<circle cx="631.1" cy="300.9" r="3.4" fill="url(#gsp)"/>
<circle cx="663.9" cy="321.8" r="3.4" fill="url(#gsp)"/>
<polygon points="583.3,211.6 584.68,215.3 588.63,215.47 585.54,217.93 586.59,221.73 583.3,219.55 580.01,221.73 581.06,217.93 577.97,215.47 581.92,215.3" fill="#FF0A0A"/>
<text x="591" y="219.9" font-family="Liberation Sans" font-weight="bold" font-size="7.8" text-anchor="start" fill="#FF0A0A" >Cu(bpy)NP</text>
<text x="510.9" y="301.9" font-family="Liberation Sans" font-weight="bold" font-size="5.95" text-anchor="start" fill="#1a1a1a" >BSF-3</text>
<text x="535.5" y="303.1" font-family="Liberation Sans" font-weight="bold" font-size="5.95" text-anchor="start" fill="#1a1a1a" >UiO-66-(CF<tspan font-size="4.4" dy="1.2">3</tspan><tspan dy="-1.2">)</tspan><tspan font-size="4.4" dy="1.2">3</tspan></text>
<text x="497.7" y="315.2" font-family="Liberation Sans" font-weight="bold" font-size="5.95" text-anchor="start" fill="#1a1a1a" >JCM-1</text>
<text x="541.5" y="316.5" font-family="Liberation Sans" font-weight="bold" font-size="5.95" text-anchor="start" fill="#1a1a1a" >pacs-CoMOF-2a</text>
<text x="501.2" y="324.2" font-family="Liberation Sans" font-weight="bold" font-size="5.95" text-anchor="start" fill="#1a1a1a" >MUF-17</text>
<text x="520.9" y="332.8" font-family="Liberation Sans" font-weight="bold" font-size="5.95" text-anchor="start" fill="#1a1a1a" >BSF-3-Co</text>
<text x="550.4" y="327.2" font-family="Liberation Sans" font-weight="bold" font-size="5.95" text-anchor="start" fill="#1a1a1a" >NbU-8</text>
<text x="495.1" y="333.7" font-family="Liberation Sans" font-weight="bold" font-size="5.95" text-anchor="start" fill="#1a1a1a" >BSF-2</text>
<text x="569.3" y="336.2" font-family="Liberation Sans" font-weight="bold" font-size="5.95" text-anchor="start" fill="#1a1a1a" >ZU-12-Ni</text>
<text x="538.7" y="345.9" font-family="Liberation Sans" font-weight="bold" font-size="5.95" text-anchor="start" fill="#1a1a1a" >UTSA-220</text>
<text x="494.9" y="352.9" font-family="Liberation Sans" font-weight="bold" font-size="5.95" text-anchor="start" fill="#1a1a1a" >BSF-1</text>
<text x="520.6" y="351.5" font-family="Liberation Sans" font-weight="bold" font-size="5.95" text-anchor="start" fill="#1a1a1a" >ZrT-1-tetrazol</text>
<text x="557.7" y="243.8" font-family="Liberation Sans" font-weight="bold" font-size="5.95" text-anchor="start" fill="#1a1a1a" >ZJU-74a</text>
<text x="614" y="285.2" font-family="Liberation Sans" font-weight="bold" font-size="5.95" text-anchor="start" fill="#1a1a1a" >NKMOF-1-Ni</text>
<text x="636.2" y="303.1" font-family="Liberation Sans" font-weight="bold" font-size="5.95" text-anchor="start" fill="#1a1a1a" >ZJU-280</text>
<text x="622.6" y="324" font-family="Liberation Sans" font-weight="bold" font-size="5.95" text-anchor="start" fill="#1a1a1a" >TIFSIX-2-Cu-i</text>
<rect x="493.9" y="209.9" width="185.5" height="143.3" fill="none" stroke="#2a2a2a" stroke-width="1.3"/>
<line x1="494" y1="353.2" x2="494" y2="355.8" stroke="#2a2a2a" stroke-width="1.1" />
<line x1="524.92" y1="353.2" x2="524.92" y2="355.8" stroke="#2a2a2a" stroke-width="1.1" />
<line x1="555.84" y1="353.2" x2="555.84" y2="355.8" stroke="#2a2a2a" stroke-width="1.1" />
<line x1="586.76" y1="353.2" x2="586.76" y2="355.8" stroke="#2a2a2a" stroke-width="1.1" />
<line x1="617.68" y1="353.2" x2="617.68" y2="355.8" stroke="#2a2a2a" stroke-width="1.1" />
<line x1="648.6" y1="353.2" x2="648.6" y2="355.8" stroke="#2a2a2a" stroke-width="1.1" />
<line x1="679.52" y1="353.2" x2="679.52" y2="355.8" stroke="#2a2a2a" stroke-width="1.1" />
<line x1="509.46" y1="353.2" x2="509.46" y2="354.7" stroke="#2a2a2a" stroke-width="1.1" />
<line x1="540.38" y1="353.2" x2="540.38" y2="354.7" stroke="#2a2a2a" stroke-width="1.1" />
<line x1="571.3" y1="353.2" x2="571.3" y2="354.7" stroke="#2a2a2a" stroke-width="1.1" />
<line x1="602.22" y1="353.2" x2="602.22" y2="354.7" stroke="#2a2a2a" stroke-width="1.1" />
<line x1="633.14" y1="353.2" x2="633.14" y2="354.7" stroke="#2a2a2a" stroke-width="1.1" />
<line x1="664.06" y1="353.2" x2="664.06" y2="354.7" stroke="#2a2a2a" stroke-width="1.1" />
<text x="494" y="364.3" font-family="Liberation Sans" font-weight="bold" font-size="7.3" text-anchor="middle" fill="#111" >0</text>
<text x="524.92" y="364.3" font-family="Liberation Sans" font-weight="bold" font-size="7.3" text-anchor="middle" fill="#111" >10</text>
<text x="555.84" y="364.3" font-family="Liberation Sans" font-weight="bold" font-size="7.3" text-anchor="middle" fill="#111" >20</text>
<text x="586.76" y="364.3" font-family="Liberation Sans" font-weight="bold" font-size="7.3" text-anchor="middle" fill="#111" >30</text>
<text x="617.68" y="364.3" font-family="Liberation Sans" font-weight="bold" font-size="7.3" text-anchor="middle" fill="#111" >40</text>
<text x="648.6" y="364.3" font-family="Liberation Sans" font-weight="bold" font-size="7.3" text-anchor="middle" fill="#111" >50</text>
<text x="679.52" y="364.3" font-family="Liberation Sans" font-weight="bold" font-size="7.3" text-anchor="middle" fill="#111" >60</text>
<line x1="493.9" y1="353.3" x2="491.3" y2="353.3" stroke="#2a2a2a" stroke-width="1.1" />
<line x1="493.9" y1="324.5" x2="491.3" y2="324.5" stroke="#2a2a2a" stroke-width="1.1" />
<line x1="493.9" y1="295.7" x2="491.3" y2="295.7" stroke="#2a2a2a" stroke-width="1.1" />
<line x1="493.9" y1="266.9" x2="491.3" y2="266.9" stroke="#2a2a2a" stroke-width="1.1" />
<line x1="493.9" y1="238.1" x2="491.3" y2="238.1" stroke="#2a2a2a" stroke-width="1.1" />
<line x1="493.9" y1="209.3" x2="491.3" y2="209.3" stroke="#2a2a2a" stroke-width="1.1" />
<line x1="493.9" y1="338.9" x2="492.4" y2="338.9" stroke="#2a2a2a" stroke-width="1.1" />
<line x1="493.9" y1="310.1" x2="492.4" y2="310.1" stroke="#2a2a2a" stroke-width="1.1" />
<line x1="493.9" y1="281.3" x2="492.4" y2="281.3" stroke="#2a2a2a" stroke-width="1.1" />
<line x1="493.9" y1="252.5" x2="492.4" y2="252.5" stroke="#2a2a2a" stroke-width="1.1" />
<line x1="493.9" y1="223.7" x2="492.4" y2="223.7" stroke="#2a2a2a" stroke-width="1.1" />
<text x="489.4" y="355.9" font-family="Liberation Sans" font-weight="bold" font-size="7.3" text-anchor="end" fill="#111" >0</text>
<text x="489.4" y="327.1" font-family="Liberation Sans" font-weight="bold" font-size="7.3" text-anchor="end" fill="#111" >10</text>
<text x="489.4" y="298.3" font-family="Liberation Sans" font-weight="bold" font-size="7.3" text-anchor="end" fill="#111" >20</text>
<text x="489.4" y="269.5" font-family="Liberation Sans" font-weight="bold" font-size="7.3" text-anchor="end" fill="#111" >30</text>
<text x="489.4" y="240.7" font-family="Liberation Sans" font-weight="bold" font-size="7.3" text-anchor="end" fill="#111" >40</text>
<text x="489.4" y="211.9" font-family="Liberation Sans" font-weight="bold" font-size="7.3" text-anchor="end" fill="#111" >50</text>
<text x="530" y="374.8" font-family="Liberation Sans" font-weight="bold" font-size="7.07" text-anchor="start" fill="#111" >IAST selectivity for 1/99 C<tspan font-size="4.95" baseline-shift="-2.12">2</tspan>H<tspan font-size="4.95" baseline-shift="-2.12">2</tspan>/C<tspan font-size="4.95" baseline-shift="-2.12">2</tspan>H<tspan font-size="4.95" baseline-shift="-2.12">4</tspan></text>
<text transform="translate(472.6,281) rotate(-90)" font-family="Liberation Sans" font-weight="bold" font-size="7.25" text-anchor="middle" fill="#111">IAST selectivity for 50/50 C<tspan font-size="5.07" baseline-shift="-2.17">2</tspan>H<tspan font-size="5.07" baseline-shift="-2.17">2</tspan>/CO<tspan font-size="5.07" baseline-shift="-2.17">2</tspan></text>
</svg>
</body></html>
